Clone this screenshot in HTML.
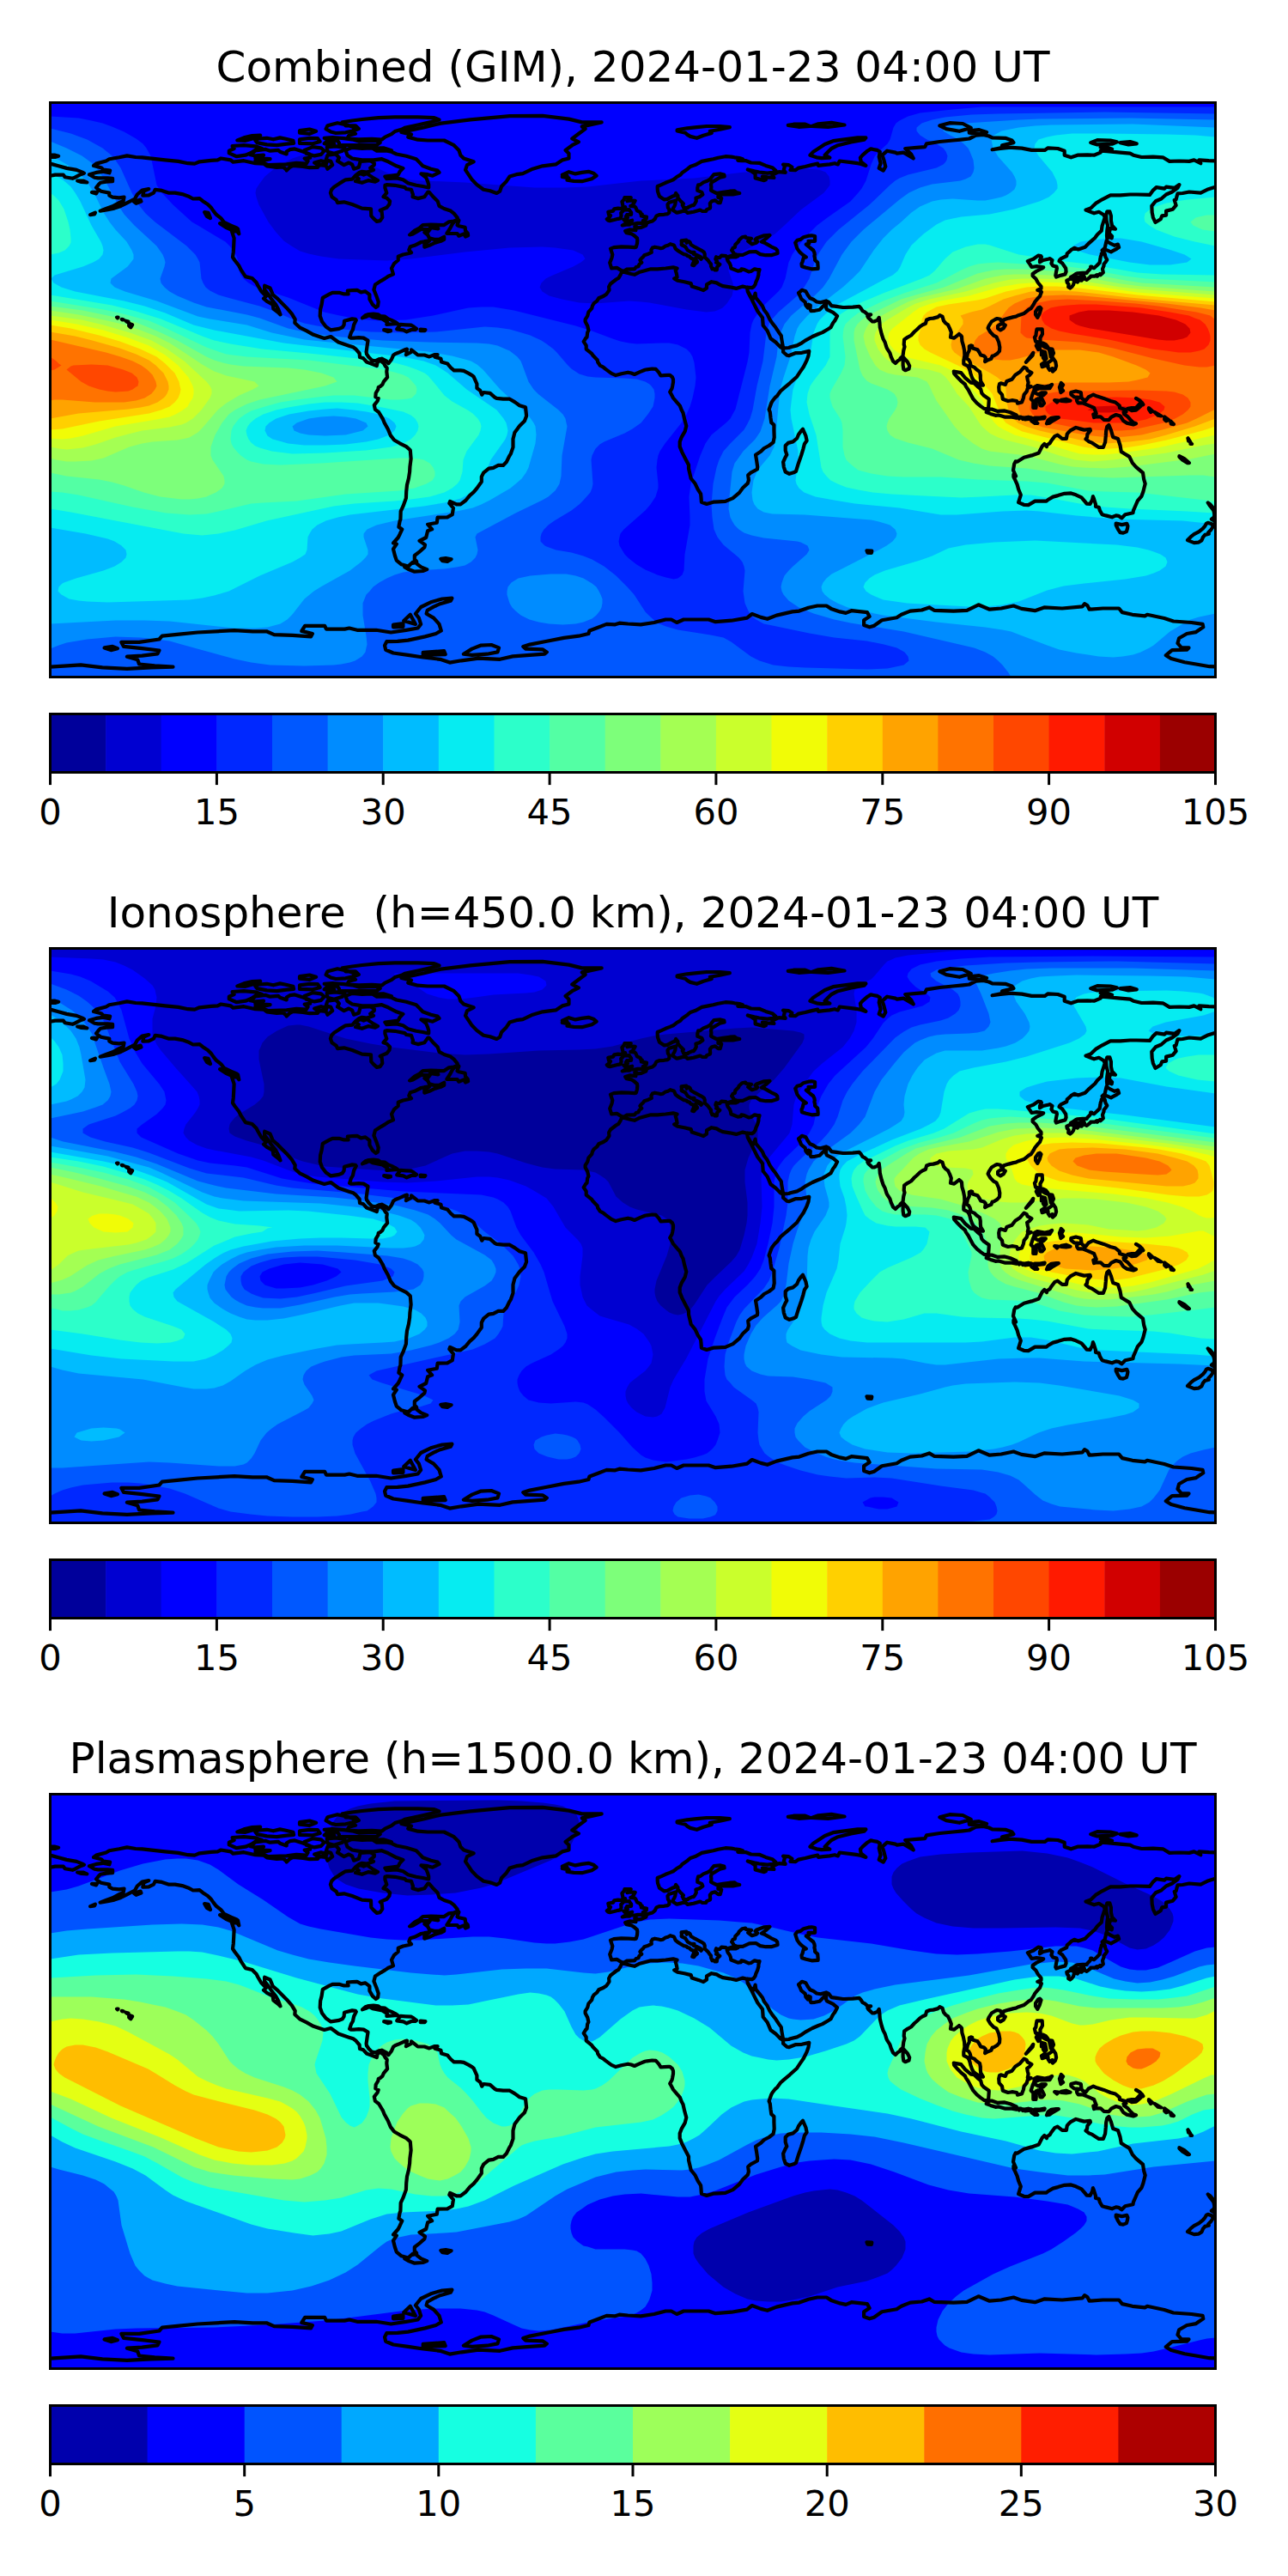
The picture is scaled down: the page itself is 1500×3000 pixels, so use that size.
<!DOCTYPE html>
<html><head><meta charset="utf-8"><title>TEC maps</title>
<style>html,body{margin:0;padding:0;background:#fff}svg{display:block}text{font-family:"DejaVu Sans","Liberation Sans",sans-serif;fill:#000}</style></head>
<body>
<svg width="1500" height="3000" viewBox="0 0 1500 3000">
<defs><clipPath id="mc"><rect x="0" y="0" width="1357" height="669"/></clipPath>
<g id="coast" fill="none" stroke="#000" stroke-width="4.2" stroke-linejoin="round" stroke-linecap="round"><path d="M50.5,73.4 53.5,71.1 65.0,68.0 68.8,65.7 80.3,63.8 89.4,61.9 99.4,63.5 107.0,63.8 120.4,65.4 133.8,66.9 149.1,68.4 160.5,70.7 168.2,71.1 173.9,68.8 187.3,67.3 194.9,66.9 198.8,65.0 210.2,66.9 212.9,69.2 225.5,67.7 238.9,70.7 248.5,71.1 252.3,73.8 263.8,75.3 271.4,74.9 275.2,78.4 275.2,79.1 279.0,75.3 282.9,73.4 294.3,74.5 302.0,75.7 311.5,75.3 313.4,72.6 321.1,73.4 323.0,77.2 328.7,72.6 326.8,68.4 321.1,66.9 323.0,61.2 332.6,60.0 336.4,64.2 334.5,68.0 342.1,72.6 347.8,70.0 351.7,72.2 353.6,77.2 359.3,75.3 361.2,68.4 372.7,67.7 377.3,70.3 377.3,72.6 372.7,76.1 376.5,78.4 368.9,81.0 363.1,80.3 359.3,81.8 355.5,84.9 351.7,89.1 344.0,89.8 341.3,91.4 336.4,94.4 330.6,98.2 327.6,101.3 326.4,105.1 328.0,109.7 333.3,113.5 334.5,116.6 342.1,115.8 351.7,118.5 363.1,123.1 373.5,123.8 373.8,131.9 376.5,134.9 380.3,138.4 384.2,137.6 386.8,133.8 386.1,127.3 384.2,125.4 391.8,122.3 394.9,118.5 395.6,114.7 391.8,110.9 388.0,109.7 391.8,105.1 389.9,99.4 389.9,96.3 391.8,95.6 401.4,96.3 412.8,98.6 414.7,100.5 420.5,101.3 422.4,107.0 422.0,109.7 428.1,111.6 435.8,109.7 439.6,104.4 441.1,104.0 445.3,108.9 451.1,114.7 453.0,120.4 458.7,123.5 466.3,126.1 470.2,129.2 474.0,133.8 474.8,136.1 470.2,138.0 464.4,138.8 458.7,142.6 443.4,142.2 433.9,142.6 430.0,146.0 424.3,149.1 418.6,154.0 422.4,152.9 431.9,147.5 442.3,147.5 439.6,151.0 435.8,151.0 439.6,154.0 441.5,157.9 447.2,159.4 453.0,159.4 458.7,156.3 458.7,159.4 454.9,161.3 447.2,163.6 441.5,166.3 435.8,168.2 435.8,164.7 441.5,160.9 435.8,161.7 431.9,162.5 424.3,166.3 419.3,167.8 417.8,171.6 420.5,174.7 416.7,175.8 410.9,177.0 405.2,179.3 405.2,183.5 400.6,187.3 397.5,193.0 399.5,199.9 393.7,202.2 389.9,204.9 385.3,207.6 378.4,212.1 376.9,217.9 380.3,226.3 382.2,232.0 381.5,237.0 379.2,238.5 375.4,235.1 371.9,229.0 371.9,223.6 367.0,219.8 362.0,220.9 357.4,218.3 351.7,218.6 346.3,219.0 347.1,222.9 342.1,222.9 336.4,221.3 328.7,221.3 324.9,223.2 317.3,227.4 316.1,235.1 314.6,240.8 314.2,248.5 316.5,255.0 321.1,261.1 326.8,264.9 336.4,263.4 340.2,261.8 342.1,258.8 342.5,254.2 351.7,251.9 355.5,252.3 356.3,253.4 353.6,258.8 352.4,264.5 350.5,267.6 348.6,273.3 349.8,274.1 353.6,274.1 359.3,273.7 365.0,274.1 370.0,277.1 368.9,284.8 368.1,290.5 368.5,292.8 370.8,296.2 374.6,300.1 378.4,300.8 382.6,298.9 386.1,298.2 391.8,301.2 393.7,303.9 397.5,298.9 399.5,294.3 402.1,292.4 405.2,291.3 412.8,287.8 415.5,287.1 414.7,292.4 414.4,293.6 420.5,290.5 420.5,287.8 426.2,292.4 428.1,294.0 435.8,294.0 441.5,295.9 447.2,293.6 451.1,293.6 448.0,296.2 454.9,298.2 455.6,302.0 462.5,303.9 466.3,308.5 470.2,311.9 477.8,311.9 481.6,312.3 487.4,315.4 491.2,317.6 493.1,319.2 496.9,327.6 496.9,332.6 500.7,335.2 502.7,340.2 504.6,337.5 512.2,338.3 517.9,343.3 519.9,344.4 527.5,345.2 535.1,345.2 540.9,348.6 546.6,352.8 553.5,354.7 554.6,365.0 552.4,370.8 546.6,376.5 540.9,384.2 539.0,391.8 539.0,401.4 536.3,409.0 534.4,412.1 531.3,418.6 527.5,422.4 521.8,422.4 516.0,425.4 510.7,426.2 504.6,431.2 502.3,435.8 502.3,441.5 496.9,449.1 493.1,453.7 488.5,457.6 483.9,463.3 477.8,467.9 473.2,467.9 465.6,464.4 464.8,466.7 469.4,472.1 468.3,479.7 462.5,482.8 451.1,483.2 450.3,489.3 439.6,491.2 444.6,496.9 439.6,498.8 437.7,506.5 430.0,510.3 436.5,514.9 435.8,517.9 429.3,523.7 424.3,527.5 424.3,531.7 426.6,534.4 422.4,535.1 416.7,540.1 409.0,537.8 403.3,533.2 401.4,527.5 399.5,519.9 403.3,514.1 399.5,513.0 405.2,506.5 407.1,502.7 409.8,496.9 405.9,494.2 407.1,487.4 407.9,485.5 408.2,475.9 410.9,470.2 414.4,460.6 414.7,453.0 415.5,445.3 417.4,437.7 418.6,430.0 418.9,424.3 420.1,414.7 419.3,404.8 414.7,400.6 407.1,396.8 400.6,393.0 396.4,387.6 393.3,380.3 389.1,372.7 387.6,368.9 385.3,365.0 382.6,360.5 378.4,357.4 377.3,352.4 381.1,347.5 382.2,344.4 378.8,342.9 379.2,338.3 381.9,333.7 382.2,331.4 384.2,330.6 386.8,328.4 388.4,324.9 392.6,319.9 391.8,313.4 392.2,309.2 390.3,306.9 388.4,303.5 384.2,300.1 381.1,302.7 380.3,306.6 376.5,305.0 371.2,303.1 368.5,302.0 364.7,297.8 360.5,296.6 360.1,292.0 355.5,286.7 352.8,284.8 347.8,283.2 342.1,281.3 335.6,279.0 326.8,272.5 319.2,274.5 306.6,270.3 298.2,265.7 290.5,261.8 284.8,256.5 285.2,252.3 281.3,245.8 275.2,238.9 269.5,233.2 264.1,227.8 259.2,223.6 256.1,216.0 249.6,213.3 249.6,217.9 254.2,223.6 258.0,229.3 262.6,235.1 265.7,240.8 268.0,246.9 265.7,244.6 259.9,240.1 259.2,235.1 252.3,231.3 248.5,228.2 251.5,225.5 245.8,219.8 242.0,213.3 240.1,209.5 235.1,204.5 227.4,202.6 222.1,194.6 219.8,190.0 214.8,183.5 212.5,180.0 213.3,173.9 213.7,166.3 214.1,157.9 211.4,149.5 217.9,150.2 219.8,152.9 218.6,147.2 217.1,146.0 211.0,143.3 202.6,139.5 198.8,134.6 193.0,130.0 190.0,126.1 187.3,122.3 183.5,118.5 177.7,114.7 173.9,111.6 166.3,112.0 160.5,108.9 153.7,106.6 145.3,105.1 137.6,105.1 130.0,102.4 122.3,101.3 120.4,105.1 114.7,107.8 107.8,108.2 108.9,103.2 114.7,100.5 107.0,102.1 101.3,107.0 98.6,112.0 89.8,116.6 82.2,120.4 74.5,123.1 66.9,124.6 58.1,126.1 65.0,123.5 72.6,120.8 80.3,116.6 85.2,114.3 86.0,110.1 80.3,110.9 72.6,110.1 68.8,108.2 68.8,105.1 59.2,103.2 56.2,101.3 53.5,99.0 56.2,95.6 58.5,93.3 65.0,92.1 72.6,91.7 72.6,88.3 66.9,87.9 55.8,87.9 51.6,87.2 45.5,83.7 53.5,81.4 61.2,80.3 68.8,81.8 69.6,79.1 61.9,78.0 59.2,75.7 50.5,73.4ZM409.0,34.4 435.8,28.7 454.9,24.1 489.3,19.9 535.1,15.7 573.4,15.3 604.0,19.1 619.2,22.9 642.2,22.9 619.2,27.9 623.1,30.6 615.4,36.3 607.8,42.0 615.4,45.9 607.8,49.7 600.1,55.4 604.0,59.2 604.0,65.0 596.3,66.9 588.7,71.9 573.4,73.8 561.9,77.2 550.4,82.6 542.8,83.7 535.1,86.0 531.3,91.7 525.6,97.5 523.7,103.2 519.9,105.5 512.2,102.8 504.6,101.3 496.9,95.6 491.2,89.8 487.4,84.1 483.5,78.4 485.5,72.6 493.1,68.8 481.6,65.0 477.8,61.2 475.9,55.4 470.2,49.7 458.7,44.0 439.6,44.0 428.1,43.2 416.7,40.1 420.5,37.1 409.0,34.4ZM596.3,84.1 604.0,80.7 611.6,82.9 619.2,81.4 626.9,80.3 632.6,82.2 636.1,85.2 630.7,88.7 619.2,91.7 609.7,91.4 602.0,90.2 604.0,87.9 596.3,86.4 602.0,85.2 596.3,84.1ZM665.5,197.6 667.8,197.2 676.6,199.5 680.4,200.3 685.8,197.6 699.5,193.8 707.2,193.8 716.7,193.0 725.5,191.9 730.1,193.0 728.2,195.3 729.3,198.8 730.1,203.4 726.7,204.9 730.5,207.2 738.5,208.7 746.2,210.6 747.3,214.1 754.9,216.4 760.7,218.6 764.5,216.0 764.5,211.8 770.2,208.7 776.0,209.9 779.8,212.1 783.6,213.7 791.3,214.8 798.9,216.4 802.7,215.2 806.5,214.1 811.5,215.2 817.3,215.6 819.2,214.4 821.1,211.8 821.8,209.1 823.7,204.9 824.9,200.7 824.9,198.4 826.0,194.6M811.5,215.2 812.3,220.2 816.1,227.4 819.9,235.1 823.7,242.7 829.5,250.4 830.2,259.5 835.2,265.7 839.0,274.8 844.8,279.0 850.5,284.8 853.6,286.7 853.6,290.5 858.2,294.3 860.1,294.7 867.7,291.7 875.4,291.3 883.8,289.4 883.0,294.7 881.1,300.1 877.3,307.7 873.4,313.4 869.6,319.2 861.2,326.8 854.3,332.6 850.5,336.0 846.7,341.3 844.4,343.3 840.9,347.8 839.8,349.8 837.1,357.4 838.3,360.5 839.0,367.0 839.8,372.7 842.9,375.4 842.9,382.2 843.2,389.9 842.1,395.6 837.1,399.5 831.4,402.5 827.6,406.3 821.5,410.2 822.6,416.7 823.7,424.3 823.4,427.0 816.1,430.8 812.7,433.9 813.4,439.6 812.3,443.4 806.5,448.8 802.7,454.1 795.1,460.6 786.3,464.4 777.9,464.8 772.1,465.2 764.5,467.5 758.4,465.2 758.0,459.5 757.6,455.6 754.2,450.3 751.1,443.8 746.2,437.7 745.8,436.1 743.5,426.2 743.5,422.0 739.7,414.7 735.8,407.1 733.2,400.6 733.2,394.9 735.1,389.9 739.3,382.6 740.8,376.5 738.5,368.1 737.0,361.2 735.1,357.8 734.7,356.6 733.2,352.8 730.1,349.4 725.5,344.0 722.5,338.3 721.7,337.1 724.0,332.9 724.7,329.9 725.5,325.7 725.5,322.2 724.4,319.6 721.7,317.3 719.8,317.3 714.8,317.6 711.0,318.0 708.7,314.2 705.3,310.4 701.0,310.0 694.9,310.8 692.6,311.2 687.3,313.4 680.4,316.5 676.6,315.0 672.8,314.2 665.1,315.7 658.6,317.6 653.6,315.4 646.8,310.4 644.1,308.1 640.3,306.2 637.6,302.0 637.2,299.7 635.7,298.2 631.9,294.3 630.7,292.4 624.2,287.1 624.2,282.9 621.2,278.3 623.8,274.1 625.0,273.3 625.7,267.6 626.9,265.3 625.7,259.9 623.1,255.0 623.1,252.7 625.7,248.5 626.9,243.9 630.7,239.7 631.5,236.6 633.0,233.9 636.8,230.9 638.7,227.8 644.1,225.5 647.9,222.9 651.0,218.3 650.6,214.4 652.5,211.0 659.0,206.0 662.1,204.1 664.4,199.9 665.5,197.6M876.5,380.3 879.9,388.0 881.1,393.7 878.4,397.5 876.9,403.3 874.6,410.9 871.5,419.7 868.5,429.3 865.8,430.8 860.8,432.3 856.2,430.0 854.3,424.3 853.6,418.6 856.2,412.8 857.8,410.2 856.2,405.2 856.2,399.5 859.3,396.4 865.0,394.9 869.6,391.0 871.5,386.5 874.6,382.2 876.5,380.3ZM826.0,194.6 823.7,194.6 820.3,193.8 816.1,196.5 813.4,196.9 808.5,194.6 805.0,193.8 804.3,195.7 800.8,196.1 796.2,194.2 792.8,193.0 792.4,190.0 791.3,187.3 789.0,184.2 788.2,181.6 791.3,180.0 798.1,180.0 800.8,178.9 798.9,177.7 798.9,177.0 796.2,175.8 795.1,177.7 791.3,178.9 788.2,180.4 787.4,179.3 787.1,178.5 781.7,178.1 779.8,180.4 777.5,180.8 775.6,179.7 774.8,182.3 776.7,185.0 775.6,186.2 779.8,188.4 778.6,189.6 776.7,191.1 776.3,194.9 774.1,194.9 772.5,193.4 771.0,193.8 769.5,190.4 769.5,188.1 767.6,185.8 765.6,183.1 762.2,180.0 762.2,176.2 761.4,174.3 758.8,172.4 757.2,171.6 750.7,168.2 746.2,165.5 745.0,162.5 743.1,161.3 741.2,163.2 740.0,160.5 740.8,160.2 735.1,160.9 735.4,163.2 735.1,165.5 739.7,167.8 742.3,172.0 746.2,174.3 750.0,174.3 749.2,176.2 752.7,177.4 756.9,179.3 758.8,181.2 758.0,182.3 756.5,180.8 753.8,179.7 751.5,181.2 751.5,183.1 753.4,185.0 753.4,185.8 751.1,187.7 749.6,189.6 747.7,189.2 748.8,186.5 750.0,184.6 748.4,182.0 746.5,181.2 745.4,180.4 744.6,179.3 742.3,178.5 740.4,177.0 737.7,176.6 734.7,174.7 730.9,172.4 728.2,170.1 727.4,168.2 726.3,165.9 722.1,164.7 719.4,166.3 716.7,167.0 716.0,167.4 713.3,169.3 711.0,169.7 708.3,169.0 704.1,168.2 701.4,169.0 699.9,171.6 700.3,174.3 696.5,176.2 691.9,177.7 691.1,178.9 688.0,182.0 686.9,183.5 688.8,186.2 686.1,188.1 685.0,190.7 682.3,191.5 680.4,193.8 678.9,193.8 671.2,194.2 667.4,196.5 664.0,194.9 659.8,192.3 653.6,193.0 651.7,186.5 654.0,180.8 654.8,177.0 652.5,170.1 656.3,168.6 665.1,167.8 673.5,168.2 681.2,168.6 682.3,168.2 683.5,164.0 683.8,160.2 683.5,157.9 679.6,154.4 677.3,152.9 671.2,151.8 669.7,149.5 674.7,147.9 681.9,148.7 680.8,144.5 683.1,144.5 683.8,146.0 688.4,145.3 693.8,143.0 694.9,139.9 697.6,139.1 701.4,138.0 704.1,135.7 706.0,131.9 709.1,130.7 714.8,130.3 719.0,129.6 720.9,128.1 720.9,124.6 719.4,122.3 719.0,118.5 720.9,116.2 728.6,113.9 727.8,118.5 727.0,120.4 725.5,123.1 724.7,124.6 726.3,126.1 729.3,128.1 730.1,128.1 735.1,126.9 735.8,126.5 739.7,126.1 742.3,128.4 749.2,127.3 756.9,125.0 759.5,126.5 763.7,126.5 764.5,124.6 768.3,123.1 768.7,121.6 768.3,117.4 770.6,114.7 774.4,113.9 777.9,116.6 780.2,116.6 781.3,112.8 781.7,111.2 777.9,110.5 777.9,108.2 782.5,107.0 787.4,106.6 795.1,107.0 802.7,105.5 798.9,104.4 797.0,102.8 791.3,103.2 783.6,104.4 776.0,105.5 772.1,103.6 769.5,102.1 769.9,98.2 769.5,95.6 770.2,92.9 774.1,90.6 779.8,87.2 785.1,86.0 784.8,84.1 780.6,82.9 772.9,83.7 770.2,86.8 769.1,88.7 765.6,91.0 760.7,92.9 756.9,95.6 754.6,95.9 753.8,99.4 753.8,102.4 758.8,104.4 759.9,107.0 756.1,109.7 751.9,110.9 752.3,114.7 750.7,117.7 749.2,119.6 747.7,119.6 742.7,121.9 742.3,122.7 737.7,122.7 737.0,120.4 736.2,119.3 737.4,117.7 733.5,113.9 730.9,110.9 730.9,108.6 728.6,105.5 727.4,108.2 724.4,109.3 718.6,112.4 714.8,112.8 709.5,109.3 707.5,103.6 707.2,100.5 707.2,97.5 711.7,95.6 716.7,93.3 721.7,91.4 725.5,89.8 729.3,86.8 733.9,84.1 736.2,81.4 742.3,77.2 745.4,74.5 751.1,72.6 758.8,68.4 766.4,66.9 772.1,65.7 777.9,64.2 786.3,62.7 793.2,63.1 797.0,63.8 802.7,64.6 806.5,65.7 800.8,67.3 805.8,67.7 810.4,67.7 814.2,69.2 816.1,70.0 825.7,70.3 833.3,73.4 840.9,75.7 844.8,79.1 845.5,80.3 840.9,81.4 835.2,82.2 825.7,81.0 819.9,79.9 812.3,78.0 816.1,79.5 821.1,82.9 821.1,87.9 825.7,89.1 831.4,90.6 833.3,89.8 829.5,86.0 835.2,86.8 842.9,87.5 840.9,84.1 848.6,80.7 856.2,81.4 854.3,78.4 855.5,73.4 853.6,72.2 860.1,72.6 863.9,75.3 862.0,78.4 867.7,78.7 871.5,76.1 879.2,74.5 886.8,72.6 893.7,71.1 894.5,73.4 900.2,72.6 907.8,71.9 913.6,70.7 917.4,71.9 919.3,68.0 932.7,69.6 940.3,70.7 944.2,71.5 949.9,73.4 944.2,68.8 943.4,64.2 946.1,61.2 951.8,56.2 955.6,53.9 963.3,55.4 966.3,57.3 965.2,63.1 967.1,70.7 965.2,76.4 970.2,79.1 972.8,74.5 970.9,66.9 969.0,61.2 974.7,56.2 984.3,58.1 986.2,59.2 993.8,58.1 997.7,60.4 1005.3,65.0 1002.6,60.0 995.8,53.5 1009.1,52.4 1018.7,51.6 1020.6,47.8 1035.9,45.5 1051.2,44.0 1062.7,42.8 1070.3,42.0 1077.9,38.2 1086.7,37.5 1093.2,39.0 1097.1,40.9 1112.3,41.3 1120.0,44.0 1121.9,46.6 1108.5,49.7 1108.5,51.6 1116.2,52.4 1106.6,53.5 1097.1,54.7 1110.4,52.0 1120.0,52.4 1131.5,53.1 1142.9,55.4 1158.2,55.4 1162.0,52.8 1173.5,53.5 1181.2,56.2 1181.2,61.2 1188.8,63.8 1196.4,61.2 1207.9,60.8 1215.6,61.2 1223.2,58.1 1223.2,56.2 1230.8,56.6 1246.1,58.1 1257.6,59.2 1261.4,61.2 1271.0,63.5 1284.4,63.1 1295.8,63.8 1303.5,68.4 1314.9,68.0 1326.4,68.4 1332.1,66.9 1339.8,70.7 1337.9,66.9 1349.3,67.7 1360.8,68.0 1372.3,70.7 1376.1,71.1M0.0,71.1 9.6,73.8 19.1,76.4 30.6,78.4 38.2,81.4 39.4,82.2 34.4,84.1 28.7,87.2 26.0,88.3 17.2,86.8 15.3,84.1 5.7,84.1 0.0,85.2M1376.1,86.0 1366.5,87.2 1370.4,91.7 1372.3,95.6 1364.6,95.6 1373.0,96.3 1357.0,98.2 1347.4,101.3 1339.8,105.1 1326.4,104.0 1318.8,105.5 1313.0,105.9 1311.9,109.7 1311.1,112.8 1309.2,113.5 1311.1,119.6 1307.3,124.2 1299.6,126.1 1299.6,131.1 1294.7,131.9 1293.2,135.7 1287.0,139.5 1284.4,133.8 1283.2,128.1 1282.8,120.4 1287.4,114.7 1293.9,112.0 1299.6,107.0 1306.5,104.0 1313.0,99.4 1314.9,95.6 1309.2,99.4 1299.6,98.2 1297.7,100.1 1288.2,98.6 1284.4,102.1 1280.5,107.4 1265.2,107.0 1257.6,107.0 1246.1,107.8 1234.7,107.8 1225.1,112.8 1217.5,117.4 1211.7,123.1 1206.0,125.0 1213.6,128.1 1215.6,128.8 1221.3,127.3 1227.0,130.7 1228.2,133.8 1227.0,137.6 1225.1,143.3 1224.3,149.1 1219.4,153.7 1216.7,157.5 1209.8,163.6 1205.2,168.2 1197.2,170.9 1192.6,169.3 1188.8,171.6 1187.7,172.8 1184.2,175.8 1183.8,178.5 1177.3,181.6 1175.4,183.5 1175.0,184.6 1178.9,187.3 1182.7,193.0 1183.1,196.9 1181.9,199.9 1177.3,201.1 1171.6,203.0 1170.8,201.4 1171.6,196.9 1172.4,193.0 1172.0,191.1 1167.8,190.0 1165.9,187.3 1167.0,183.5 1164.0,181.6 1163.2,182.0 1156.3,183.5 1152.5,185.8 1152.5,183.5 1154.4,179.7 1153.6,178.5 1150.6,178.1 1145.2,182.0 1138.3,184.6 1141.0,188.4 1142.9,191.5 1148.7,190.7 1152.5,191.1 1156.7,191.9 1154.4,193.4 1148.3,196.5 1144.1,199.5 1144.1,201.8 1147.9,205.3 1150.2,209.5 1154.0,214.1 1154.0,216.4 1149.8,218.3 1153.6,219.8 1154.4,220.6 1152.5,225.5 1150.6,227.4 1146.8,232.0 1145.2,235.1 1142.2,239.7 1139.5,241.2 1135.3,244.6 1134.1,245.4 1127.6,247.7 1124.6,249.2 1121.9,249.6 1116.2,251.1 1112.3,252.3 1110.1,253.0 1109.3,256.9 1107.4,254.2 1106.6,252.3 1102.8,251.5 1100.9,252.3 1096.3,255.0 1093.2,259.9 1092.1,262.6 1095.1,267.6 1099.0,271.4 1102.0,272.9 1104.7,279.0 1105.8,284.8 1105.5,289.4 1102.8,292.4 1099.0,294.7 1097.1,295.1 1095.9,298.2 1091.3,300.1 1088.6,301.6 1089.4,297.0 1087.5,295.1 1083.7,294.0 1081.8,290.5 1079.9,287.8 1074.1,285.9 1073.7,283.2 1072.2,282.9 1070.3,283.6 1070.3,288.6 1068.4,292.4 1067.2,298.2 1069.5,299.3 1071.1,302.0 1072.2,306.6 1076.0,308.1 1078.7,310.8 1082.5,313.4 1083.3,317.3 1083.3,321.1 1083.7,324.5 1086.4,329.1 1083.3,329.1 1079.9,326.8 1078.7,326.1 1075.3,323.4 1073.4,319.9 1071.8,315.4 1071.4,313.4 1070.3,309.6 1068.4,306.6 1063.8,304.3 1063.8,300.1 1064.9,294.3 1064.6,288.6 1063.4,282.9 1061.9,277.9 1061.5,272.5 1060.7,271.4 1058.5,269.5 1056.2,271.4 1052.7,274.1 1048.5,273.3 1049.3,267.6 1047.4,262.6 1045.5,258.8 1042.8,256.9 1040.5,254.2 1039.0,249.2 1035.9,247.7 1034.0,249.6 1028.3,251.1 1024.4,251.5 1020.6,253.0 1019.8,256.1 1019.5,257.3 1016.0,258.8 1013.0,260.7 1009.1,264.5 1006.5,266.8 1002.6,271.0 998.4,273.3 994.6,276.0 994.2,281.7 995.0,284.4 993.8,288.6 993.1,294.3 993.1,295.1 990.0,297.8 989.6,299.3 987.0,300.8 984.3,303.5 981.6,301.2 979.3,296.2 977.8,291.3 974.7,286.7 974.0,285.2 972.1,279.0 970.2,275.6 968.2,269.5 966.3,261.8 965.9,256.1 965.6,253.4 965.2,250.4 963.3,253.4 959.4,255.0 957.5,255.0 952.6,250.4 951.8,248.8 955.6,246.9 951.8,246.6 948.7,243.9 946.1,242.7 944.2,239.7 942.2,237.4 934.6,238.1 925.0,238.5 923.1,238.5 915.5,237.4 909.8,236.6 906.7,232.4 903.6,230.9 897.1,232.8 892.6,232.0 888.7,229.3 884.9,227.8 882.2,224.0 879.9,219.8 875.4,218.3 873.8,219.8 871.5,221.7 873.4,225.5 874.6,228.6 879.2,232.4 879.9,236.2 882.2,238.9 883.0,235.1 885.3,236.2 884.9,240.4 886.1,242.7 890.6,242.3 896.0,241.2 899.4,237.8 902.5,234.7 903.6,233.9 903.6,238.9 904.4,240.8 911.7,244.3 916.6,248.5 913.6,254.2 911.7,256.5 909.0,261.8 905.9,263.8 899.4,267.6 894.5,269.5 887.6,272.5 879.2,277.1 875.4,279.8 869.6,282.9 862.0,284.8 860.1,285.5 854.3,285.9 853.2,283.6 852.4,279.0 851.7,275.2 851.3,271.4 848.6,267.6 844.8,261.8 840.9,256.9 837.9,252.3 835.2,246.6 831.4,241.6 829.5,237.0 825.7,232.0 821.8,227.4 821.1,222.1 819.5,227.4 818.8,228.2 815.3,225.1 812.7,220.2M798.9,177.0 806.5,177.4 814.2,173.9 821.8,173.5 826.8,176.6 833.3,177.7 839.8,177.7 847.1,175.5 846.7,172.0 844.8,170.1 839.8,167.8 835.2,165.1 832.5,163.6 828.3,162.1 833.3,158.6 837.9,154.4 831.4,154.8 822.6,157.9 821.1,159.4 823.7,161.7 822.2,163.2 817.3,164.7 812.7,161.3 816.5,158.3 810.4,157.5 809.6,156.0 805.8,156.7 802.0,160.2 801.6,161.7 797.8,165.5 797.4,168.6 795.1,169.3 793.6,172.0 795.5,174.3 796.2,175.8M867.7,163.2 870.0,170.1 872.7,173.9 876.1,177.0 880.3,180.0 877.3,180.8 876.1,185.4 875.0,187.7 875.4,190.7 880.3,192.3 886.8,193.8 894.1,193.4 894.1,191.1 893.7,186.2 890.6,183.5 890.6,181.6 889.9,178.5 890.3,177.0 889.9,174.7 888.7,172.0 884.9,169.0 880.3,165.1 883.8,164.0 883.0,161.3 890.6,161.3 890.6,155.6 886.8,154.8 883.0,155.2 877.3,156.7 873.8,159.4 870.0,160.2 867.7,163.2ZM666.3,143.0 670.8,142.2 674.7,142.2 676.6,140.7 680.8,141.1 684.2,140.3 689.2,140.3 693.4,139.1 691.9,138.0 690.3,137.6 694.2,135.3 694.5,133.0 690.0,132.3 688.4,131.9 689.2,130.0 687.7,129.6 687.3,127.7 683.5,125.8 681.9,122.3 680.4,120.8 675.8,120.4 678.1,119.3 680.0,116.6 681.2,114.3 674.7,113.9 672.0,114.7 673.1,113.1 676.2,110.5 668.9,110.5 668.2,112.8 665.9,115.4 666.6,118.5 667.0,120.4 666.6,123.1 669.7,121.6 669.7,124.2 668.6,125.0 674.3,124.6 675.1,126.1 676.6,128.1 676.6,130.3 671.6,130.7 670.5,132.6 672.4,133.8 670.5,135.7 667.8,136.1 668.9,137.2 674.7,138.0 677.7,137.2 675.8,138.8 672.0,138.8 669.7,141.1 666.3,143.0ZM664.0,134.9 665.1,131.9 664.7,128.4 667.0,126.5 665.5,123.5 661.3,123.1 656.7,123.8 655.6,126.1 649.8,127.3 650.6,130.7 652.5,131.5 651.0,133.8 648.3,135.7 649.8,137.2 651.7,137.6 656.7,136.5 661.3,135.3 664.0,134.9ZM884.9,61.2 888.7,57.3 894.5,53.5 902.1,48.5 911.7,44.7 925.0,42.8 940.3,40.9 949.9,40.9 948.0,43.2 932.7,45.9 917.4,49.7 909.8,53.5 905.9,57.3 902.1,61.2 907.8,64.2 898.3,64.6 892.6,63.8 884.9,61.2ZM730.1,31.7 741.6,29.8 753.0,28.7 764.5,27.5 779.8,27.5 791.3,28.7 779.8,31.3 768.3,33.3 770.2,35.5 760.7,38.2 753.0,41.3 745.4,39.4 741.6,37.1 739.7,35.2 730.1,32.9 730.1,31.7ZM1188.4,204.5 1194.5,203.4 1198.4,203.0 1204.1,202.2 1204.9,205.3 1207.1,206.4 1211.4,203.0 1211.7,202.2 1216.3,202.2 1218.6,200.7 1219.4,202.2 1222.4,199.5 1223.2,200.7 1226.3,198.0 1225.5,193.8 1227.0,190.0 1227.0,188.1 1229.3,185.4 1230.8,183.1 1228.9,179.7 1228.2,176.2 1226.6,175.8 1224.3,177.0 1223.2,179.7 1222.8,182.7 1222.1,186.5 1219.4,189.2 1218.6,190.0 1215.6,192.7 1211.7,191.1 1212.9,191.1 1210.6,194.2 1207.9,196.9 1207.1,198.4 1202.2,198.4 1196.4,198.8 1194.5,199.5 1190.7,202.2 1188.4,203.4 1188.4,204.5ZM1188.4,204.9 1191.5,206.0 1192.6,208.3 1191.5,212.1 1189.9,214.4 1187.7,216.0 1185.7,214.8 1186.1,211.4 1184.2,209.5 1183.8,207.2 1186.5,206.0 1188.4,204.9ZM1194.5,204.9 1198.7,203.4 1202.6,203.7 1202.9,205.3 1201.0,207.2 1198.4,206.4 1196.4,209.1 1194.5,208.3 1194.1,206.4 1194.5,204.9ZM1224.3,175.8 1227.0,174.7 1225.1,172.0 1228.2,169.3 1229.3,164.4 1230.1,160.9 1233.9,163.6 1239.6,166.3 1243.5,165.1 1244.6,168.6 1242.3,170.1 1236.6,173.2 1235.4,173.9 1230.1,171.6 1227.0,172.8 1224.3,175.8ZM1230.8,126.9 1233.9,126.9 1235.4,131.9 1235.4,137.6 1236.6,143.3 1240.4,147.2 1234.7,146.4 1233.1,151.8 1236.6,155.6 1236.2,157.9 1232.8,156.3 1230.8,158.6 1230.5,154.8 1230.8,149.1 1231.6,143.3 1230.1,137.6 1229.7,131.1 1230.8,126.9ZM1152.5,238.1 1154.0,239.7 1152.1,245.8 1149.8,250.4 1147.5,246.9 1147.5,243.5 1150.6,238.9 1152.5,238.1ZM1109.7,258.0 1112.3,259.2 1110.4,262.6 1106.6,264.9 1103.6,263.0 1103.6,259.9 1106.6,258.0 1109.7,258.0ZM993.8,297.0 998.4,302.0 1000.7,306.6 1000.0,310.0 995.8,311.7 993.8,310.4 993.1,305.8 993.1,302.0 993.8,297.0ZM1149.0,263.8 1155.2,263.8 1155.5,269.5 1152.9,274.1 1153.2,279.8 1156.3,280.2 1159.4,281.7 1162.0,284.8 1162.0,286.3 1158.2,284.8 1154.4,282.5 1150.6,282.1 1149.0,280.2 1150.2,278.7 1147.5,277.9 1146.4,273.3 1147.9,271.4 1148.3,267.6 1149.0,263.8ZM1167.4,297.0 1170.8,302.0 1171.6,306.6 1170.4,310.4 1167.4,313.1 1167.0,309.6 1164.0,311.5 1162.0,308.5 1162.0,305.8 1159.4,306.2 1155.2,307.7 1154.4,304.7 1157.5,302.7 1161.3,303.1 1164.0,301.6 1165.9,300.1 1167.4,297.0ZM1163.2,286.7 1167.0,287.1 1168.5,291.7 1166.6,295.5 1165.1,295.9 1164.3,291.7 1163.2,286.7ZM1154.4,289.4 1158.6,290.5 1159.4,294.3 1160.1,298.2 1158.2,299.7 1156.3,297.0 1156.7,294.3 1154.4,294.0 1154.4,289.4ZM1136.4,302.4 1140.3,298.2 1144.1,294.3 1144.8,291.3 1142.9,294.0 1139.1,298.9 1136.4,302.4ZM1148.3,283.2 1151.7,283.6 1152.5,286.7 1150.6,287.5 1148.3,283.2ZM1105.5,327.6 1107.0,326.8 1112.3,328.4 1113.9,324.5 1120.0,322.2 1123.8,317.3 1129.5,313.4 1134.1,308.1 1137.2,309.6 1138.0,311.9 1142.9,314.6 1140.3,317.6 1137.6,319.2 1138.3,323.0 1139.1,326.1 1138.3,329.9 1142.2,330.6 1138.3,332.6 1137.2,336.4 1134.1,340.2 1133.4,344.0 1131.5,349.0 1126.5,350.1 1125.7,347.5 1120.0,346.7 1115.4,347.5 1109.3,345.2 1108.5,340.2 1105.1,336.4 1104.7,331.4 1105.5,327.6ZM1052.3,313.1 1060.7,314.6 1065.3,320.3 1072.2,326.1 1076.0,326.8 1079.9,330.6 1083.7,333.7 1084.8,338.3 1087.5,341.3 1093.2,345.2 1093.2,347.1 1092.9,351.7 1092.5,356.6 1087.9,356.6 1083.7,353.6 1079.1,349.8 1074.9,345.2 1071.8,339.4 1069.2,334.5 1066.5,330.6 1065.3,328.0 1061.5,324.9 1056.9,320.3 1052.7,315.7 1052.3,313.1ZM1090.2,360.5 1093.6,357.0 1097.1,357.2 1102.8,359.3 1111.6,358.9 1118.1,360.8 1125.3,363.9 1125.3,367.3 1120.0,366.2 1112.3,366.2 1104.7,363.9 1100.9,364.3 1095.1,362.4 1090.2,360.5ZM1126.1,365.8 1130.3,366.2 1128.4,368.1 1126.1,365.8ZM1131.5,366.6 1134.1,367.0 1132.6,368.5 1131.5,366.6ZM1134.5,367.0 1139.1,366.2 1142.9,367.0 1141.0,368.1 1135.3,368.9 1134.5,367.0ZM1146.4,367.0 1152.5,367.0 1158.2,366.2 1157.5,367.7 1150.6,368.5 1146.4,368.1 1146.4,367.0ZM1142.9,370.8 1147.5,370.8 1149.8,373.5 1146.8,373.5 1142.9,370.8ZM1160.5,373.8 1164.0,373.1 1167.8,370.4 1174.3,366.6 1171.6,366.6 1165.9,367.3 1162.0,370.0 1160.5,373.8ZM1146.0,331.4 1149.8,329.5 1158.2,331.0 1164.0,329.9 1166.6,328.4 1164.0,332.6 1158.2,332.9 1152.5,332.6 1147.5,334.5 1146.8,337.9 1150.6,339.8 1154.4,337.9 1159.4,337.9 1156.3,341.0 1153.2,341.7 1155.5,345.9 1157.5,350.1 1155.2,352.8 1152.9,352.8 1152.5,349.8 1150.6,344.8 1147.9,345.9 1148.3,351.7 1147.9,355.5 1144.8,355.5 1144.8,347.8 1142.2,345.2 1144.1,339.1 1146.0,334.5 1146.0,331.4ZM1175.4,331.4 1177.3,326.4 1179.6,328.7 1177.3,332.6 1179.6,335.6 1176.9,337.5 1175.4,331.4ZM1177.3,346.3 1183.1,345.2 1188.0,347.1 1183.1,347.8 1177.3,347.5 1177.3,346.3ZM1169.7,346.7 1174.3,347.1 1172.4,349.0 1169.7,346.7ZM1188.8,337.5 1194.5,336.0 1200.3,337.5 1201.0,343.3 1202.2,345.2 1206.0,347.1 1209.1,342.9 1214.8,340.2 1219.4,342.1 1227.0,344.4 1234.7,347.5 1240.4,349.0 1245.4,353.2 1245.4,355.5 1251.9,357.4 1253.0,360.1 1250.0,360.5 1250.7,362.8 1254.5,365.4 1257.6,368.9 1261.4,372.7 1264.5,373.8 1261.4,375.0 1253.8,373.1 1250.0,370.8 1246.1,365.0 1241.2,363.5 1235.8,366.2 1232.8,369.6 1227.0,369.3 1223.2,365.8 1218.2,365.8 1215.6,366.6 1214.8,363.1 1218.2,362.0 1215.6,355.5 1207.9,352.1 1202.2,349.8 1197.2,349.8 1195.7,347.5 1195.3,345.2 1199.1,343.3 1192.6,342.9 1188.8,339.8 1188.8,337.5ZM1254.9,356.3 1259.5,355.5 1264.5,355.5 1269.1,350.5 1270.2,353.2 1267.2,355.9 1264.5,358.2 1259.5,358.6 1254.9,356.3ZM1264.5,344.4 1269.1,347.1 1272.9,351.7 1271.4,349.4 1267.2,345.9 1264.5,344.4ZM1279.4,355.5 1283.6,359.3 1281.7,360.5 1279.4,357.0 1279.4,355.5ZM1286.3,360.5 1290.1,362.8 1293.9,365.0 1290.1,364.3 1286.3,360.5ZM1297.7,365.8 1302.7,369.6 1299.6,370.8 1297.7,368.9 1297.7,365.8ZM1304.6,370.8 1308.4,374.6 1305.4,374.2 1304.6,370.8ZM1324.9,390.7 1327.6,394.9 1325.6,394.1 1324.9,390.7ZM1328.3,396.4 1329.5,397.5 1327.9,397.5 1328.3,396.4ZM1314.9,411.7 1320.7,414.7 1326.4,419.7 1324.5,419.7 1318.8,416.3 1314.9,412.4 1314.9,411.7ZM1232.8,375.4 1235.4,381.5 1237.7,389.5 1243.5,391.4 1246.1,399.5 1247.3,406.7 1250.0,408.2 1256.8,412.4 1260.3,419.7 1264.5,424.3 1272.5,431.2 1273.7,438.8 1275.2,443.8 1272.9,453.0 1271.0,458.3 1266.4,463.7 1264.1,469.0 1261.4,475.1 1261.0,477.8 1251.9,479.7 1247.7,483.9 1244.2,481.3 1241.2,480.9 1236.6,482.8 1229.3,480.9 1225.1,479.7 1222.4,475.1 1221.3,471.3 1217.5,470.5 1217.5,467.9 1215.2,460.6 1214.4,458.7 1213.6,462.5 1211.0,467.5 1207.1,467.1 1204.9,464.4 1201.0,459.8 1194.5,456.8 1188.8,454.9 1181.2,455.3 1173.5,457.6 1167.8,459.1 1162.0,462.5 1160.1,464.1 1154.4,464.1 1146.8,464.1 1139.1,468.6 1133.8,468.3 1127.6,465.6 1130.3,456.8 1127.6,450.3 1126.1,444.6 1123.8,439.6 1121.9,435.8 1121.9,433.1 1124.6,435.0 1121.5,428.1 1122.7,420.9 1124.2,417.8 1126.1,418.2 1134.1,413.2 1142.9,410.9 1151.3,407.9 1155.2,400.2 1157.8,397.5 1160.5,400.6 1160.5,399.1 1164.0,396.8 1165.9,393.7 1169.7,388.7 1173.1,387.2 1178.5,391.4 1183.4,391.4 1184.2,386.1 1185.7,384.2 1188.0,381.9 1194.5,378.4 1198.4,379.6 1204.1,381.1 1211.0,380.3 1211.4,381.9 1207.9,386.1 1207.5,389.9 1206.0,391.8 1209.8,394.9 1213.6,396.4 1221.3,401.4 1226.3,401.4 1228.6,395.6 1229.3,388.0 1229.7,382.2 1230.8,377.3 1232.8,375.4ZM1241.2,490.0 1248.0,491.6 1253.8,490.4 1254.9,493.1 1254.5,495.8 1253.4,499.6 1249.6,501.1 1246.1,500.7 1243.5,496.9 1241.2,492.0 1241.2,490.0ZM1348.2,466.0 1351.3,468.3 1355.1,472.8 1356.2,475.1 1360.0,475.1 1360.8,478.2 1366.5,479.3 1369.6,478.2 1369.6,481.6 1366.5,484.3 1364.6,484.3 1364.6,487.0 1362.0,491.2 1358.1,493.5 1355.5,492.3 1357.0,488.5 1355.5,487.0 1352.4,485.1 1355.5,482.8 1355.8,479.7 1355.1,475.9 1353.9,473.6 1350.1,469.0 1348.2,466.0ZM1348.2,489.3 1352.8,490.8 1354.3,493.9 1351.3,498.1 1348.6,500.7 1349.3,502.3 1344.8,503.4 1342.5,506.1 1340.9,509.9 1337.1,512.2 1332.1,512.6 1328.3,511.1 1324.5,509.5 1328.3,505.7 1332.1,502.7 1337.9,499.6 1342.5,495.8 1344.8,493.1 1346.3,490.4 1348.2,489.3ZM363.5,250.8 367.0,247.7 370.8,246.6 376.5,246.2 382.2,246.9 384.2,248.5 389.9,249.2 393.7,251.9 397.5,253.4 401.4,255.3 404.4,257.3 391.8,258.4 392.6,255.7 386.8,251.9 375.4,249.6 371.5,247.7 367.3,249.6 363.5,250.8ZM403.7,263.8 407.9,258.4 414.0,258.8 420.5,259.2 423.5,261.1 426.6,263.4 425.1,264.5 420.5,264.5 415.1,266.8 411.3,264.9 403.7,263.8ZM388.7,264.5 396.4,265.3 396.4,266.0 393.0,266.6 388.7,264.9 388.7,264.5ZM431.2,264.1 436.9,264.5 436.1,265.7 431.2,265.7 431.2,264.1ZM461.8,152.5 465.2,147.2 468.3,141.4 470.9,138.4 475.9,137.2 474.0,142.6 475.9,143.7 483.2,145.3 483.5,149.1 486.2,152.1 486.6,154.8 483.5,156.0 481.6,152.9 475.9,155.2 474.0,152.5 468.3,152.5 461.8,152.5ZM197.6,140.7 208.3,142.2 216.4,149.5 210.2,147.9 204.5,145.3 197.6,140.7ZM179.7,127.7 184.2,128.4 186.5,134.6 182.3,132.3 179.7,127.7ZM97.5,115.4 105.1,113.1 105.9,115.1 100.1,117.4 97.5,115.4ZM91.7,257.3 95.6,258.8 93.7,261.8 91.7,259.9 91.7,257.3ZM87.9,254.2 91.0,255.0 89.8,255.7 87.9,254.2ZM83.3,252.3 85.2,252.7 84.1,253.0 83.3,252.3ZM77.6,250.0 79.1,250.0 78.4,250.8 77.6,250.0ZM454.9,531.3 460.6,530.6 467.1,531.7 462.5,534.4 456.8,533.6 454.9,531.3ZM951.0,521.8 956.8,522.2 956.4,524.4 951.8,524.1 951.0,521.8ZM426.6,535.5 427.0,537.1 431.9,540.9 438.8,543.6 433.9,545.5 424.3,546.2 416.7,543.2 412.8,540.9 416.7,540.5 420.5,536.7 426.6,535.5ZM826.0,194.6 823.7,194.6 820.3,193.8 816.1,196.5 813.4,196.9 808.5,194.6 805.0,193.8 804.3,195.7 800.8,196.1 796.2,194.2 792.8,193.0 792.4,190.0 791.3,187.3 789.0,184.2 788.2,181.6 791.3,180.0 798.1,180.0 800.8,178.9 798.9,177.7 798.9,177.0 796.2,175.8 795.1,177.7 791.3,178.9 788.2,180.4 787.4,179.3 787.1,178.5 781.7,178.1 779.8,180.4 777.5,180.8 775.6,179.7 774.8,182.3 776.7,185.0 775.6,186.2 779.8,188.4 778.6,189.6 776.7,191.1 776.3,194.9 774.1,194.9 772.5,193.4 771.0,193.8 769.5,190.4 769.5,188.1 767.6,185.8 765.6,183.1 762.2,180.0 762.2,176.2 761.4,174.3 758.8,172.4 757.2,171.6 750.7,168.2 746.2,165.5 745.0,162.5 743.1,161.3 741.2,163.2 740.0,160.5 740.8,160.2 735.1,160.9 735.4,163.2 735.1,165.5 739.7,167.8 742.3,172.0 746.2,174.3 750.0,174.3 749.2,176.2 752.7,177.4 756.9,179.3 758.8,181.2 758.0,182.3 756.5,180.8 753.8,179.7 751.5,181.2 751.5,183.1 753.4,185.0 753.4,185.8 751.1,187.7 749.6,189.6 747.7,189.2 748.8,186.5 750.0,184.6 748.4,182.0 746.5,181.2 745.4,180.4 744.6,179.3 742.3,178.5 740.4,177.0 737.7,176.6 734.7,174.7 730.9,172.4 728.2,170.1 727.4,168.2 726.3,165.9 722.1,164.7 719.4,166.3 716.7,167.0 716.0,167.4 713.3,169.3 711.0,169.7 708.3,169.0 704.1,168.2 701.4,169.0 699.9,171.6 700.3,174.3 696.5,176.2 691.9,177.7 691.1,178.9 688.0,182.0 686.9,183.5 688.8,186.2 686.1,188.1 685.0,190.7 682.3,191.5 680.4,193.8 678.9,193.8 671.2,194.2 667.4,196.5 664.0,194.9 659.8,192.3 653.6,193.0 651.7,186.5 654.0,180.8 654.8,177.0 652.5,170.1 656.3,168.6 665.1,167.8 673.5,168.2 681.2,168.6 682.3,168.2 683.5,164.0 683.8,160.2 683.5,157.9 679.6,154.4 677.3,152.9 671.2,151.8 669.7,149.5 674.7,147.9 681.9,148.7 680.8,144.5 683.1,144.5 683.8,146.0 688.4,145.3 693.8,143.0 694.9,139.9 697.6,139.1 701.4,138.0 704.1,135.7 706.0,131.9 709.1,130.7 714.8,130.3 719.0,129.6 720.9,128.1 720.9,124.6 719.4,122.3 719.0,118.5 720.9,116.2 728.6,113.9 727.8,118.5 727.0,120.4 725.5,123.1 724.7,124.6 726.3,126.1 729.3,128.1 730.1,128.1 735.1,126.9 735.8,126.5 739.7,126.1 742.3,128.4 749.2,127.3 756.9,125.0 759.5,126.5 763.7,126.5 764.5,124.6 768.3,123.1 768.7,121.6 768.3,117.4 770.6,114.7 774.4,113.9 777.9,116.6 780.2,116.6 781.3,112.8 781.7,111.2 777.9,110.5 777.9,108.2 782.5,107.0 787.4,106.6 795.1,107.0 802.7,105.5 798.9,104.4 797.0,102.8 791.3,103.2 783.6,104.4 776.0,105.5 772.1,103.6 769.5,102.1 769.9,98.2 769.5,95.6 770.2,92.9 774.1,90.6 779.8,87.2 785.1,86.0 784.8,84.1 780.6,82.9 772.9,83.7 770.2,86.8 769.1,88.7 765.6,91.0 760.7,92.9 756.9,95.6 754.6,95.9 753.8,99.4 753.8,102.4 758.8,104.4 759.9,107.0 756.1,109.7 751.9,110.9 752.3,114.7 750.7,117.7 749.2,119.6 747.7,119.6 742.7,121.9 742.3,122.7 737.7,122.7 737.0,120.4 736.2,119.3 737.4,117.7 733.5,113.9 730.9,110.9 730.9,108.6 728.6,105.5 727.4,108.2 724.4,109.3 718.6,112.4 714.8,112.8 709.5,109.3 707.5,103.6 707.2,100.5 707.2,97.5 711.7,95.6 716.7,93.3 721.7,91.4 725.5,89.8 729.3,86.8 733.9,84.1 736.2,81.4 742.3,77.2 745.4,74.5 751.1,72.6 758.8,68.4 766.4,66.9 772.1,65.7 777.9,64.2 786.3,62.7 793.2,63.1 797.0,63.8 802.7,64.6 806.5,65.7 800.8,67.3 805.8,67.7 810.4,67.7 814.2,69.2 816.1,70.0 825.7,70.3 833.3,73.4 840.9,75.7 844.8,79.1 845.5,80.3 840.9,81.4 835.2,82.2 825.7,81.0 819.9,79.9 812.3,78.0 816.1,79.5 821.1,82.9 821.1,87.9 825.7,89.1 831.4,90.6 833.3,89.8 829.5,86.0 835.2,86.8 842.9,87.5 840.9,84.1 848.6,80.7 856.2,81.4 854.3,78.4 855.5,73.4 853.6,72.2 860.1,72.6 863.9,75.3 862.0,78.4 867.7,78.7 871.5,76.1 879.2,74.5 886.8,72.6 893.7,71.1 894.5,73.4 900.2,72.6 907.8,71.9 913.6,70.7 917.4,71.9 919.3,68.0 932.7,69.6 940.3,70.7 944.2,71.5 949.9,73.4 944.2,68.8 943.4,64.2 946.1,61.2 951.8,56.2 955.6,53.9 963.3,55.4 966.3,57.3 965.2,63.1 967.1,70.7 965.2,76.4 970.2,79.1 972.8,74.5 970.9,66.9 969.0,61.2 974.7,56.2 984.3,58.1 986.2,59.2 993.8,58.1 997.7,60.4 1005.3,65.0 1002.6,60.0 995.8,53.5 1009.1,52.4 1018.7,51.6 1020.6,47.8 1035.9,45.5 1051.2,44.0 1062.7,42.8 1070.3,42.0 1077.9,38.2 1086.7,37.5 1093.2,39.0 1097.1,40.9 1112.3,41.3 1120.0,44.0 1121.9,46.6 1108.5,49.7 1108.5,51.6 1116.2,52.4 1106.6,53.5 1097.1,54.7 1110.4,52.0 1120.0,52.4 1131.5,53.1 1142.9,55.4 1158.2,55.4 1162.0,52.8 1173.5,53.5 1181.2,56.2 1181.2,61.2 1188.8,63.8 1196.4,61.2 1207.9,60.8 1215.6,61.2 1223.2,58.1 1223.2,56.2 1230.8,56.6 1246.1,58.1 1257.6,59.2 1261.4,61.2 1271.0,63.5 1284.4,63.1 1295.8,63.8 1303.5,68.4 1314.9,68.0 1326.4,68.4 1332.1,66.9 1339.8,70.7 1337.9,66.9 1349.3,67.7 1360.8,68.0 1372.3,70.7 1376.1,71.1M0.0,71.1 9.6,73.8 19.1,76.4 30.6,78.4 38.2,81.4 39.4,82.2 34.4,84.1 28.7,87.2 26.0,88.3 17.2,86.8 15.3,84.1 5.7,84.1 0.0,85.2M1376.1,86.0 1366.5,87.2 1370.4,91.7 1372.3,95.6 1364.6,95.6 1373.0,96.3 1357.0,98.2 1347.4,101.3 1339.8,105.1 1326.4,104.0 1318.8,105.5 1313.0,105.9 1311.9,109.7 1311.1,112.8 1309.2,113.5 1311.1,119.6 1307.3,124.2 1299.6,126.1 1299.6,131.1 1294.7,131.9 1293.2,135.7 1287.0,139.5 1284.4,133.8 1283.2,128.1 1282.8,120.4 1287.4,114.7 1293.9,112.0 1299.6,107.0 1306.5,104.0 1313.0,99.4 1314.9,95.6 1309.2,99.4 1299.6,98.2 1297.7,100.1 1288.2,98.6 1284.4,102.1 1280.5,107.4 1265.2,107.0 1257.6,107.0 1246.1,107.8 1234.7,107.8 1225.1,112.8 1217.5,117.4 1211.7,123.1 1206.0,125.0 1213.6,128.1 1215.6,128.8 1221.3,127.3 1227.0,130.7 1228.2,133.8 1227.0,137.6 1225.1,143.3 1224.3,149.1 1219.4,153.7 1216.7,157.5 1209.8,163.6 1205.2,168.2 1197.2,170.9 1192.6,169.3 1188.8,171.6 1187.7,172.8 1184.2,175.8 1183.8,178.5 1177.3,181.6 1175.4,183.5 1175.0,184.6 1178.9,187.3 1182.7,193.0 1183.1,196.9 1181.9,199.9 1177.3,201.1 1171.6,203.0 1170.8,201.4 1171.6,196.9 1172.4,193.0 1172.0,191.1 1167.8,190.0 1165.9,187.3 1167.0,183.5 1164.0,181.6 1163.2,182.0 1156.3,183.5 1152.5,185.8 1152.5,183.5 1154.4,179.7 1153.6,178.5 1150.6,178.1 1145.2,182.0 1138.3,184.6 1141.0,188.4 1142.9,191.5 1148.7,190.7 1152.5,191.1 1156.7,191.9 1154.4,193.4 1148.3,196.5 1144.1,199.5 1144.1,201.8 1147.9,205.3 1150.2,209.5 1154.0,214.1 1154.0,216.4 1149.8,218.3 1153.6,219.8 1154.4,220.6 1152.5,225.5 1150.6,227.4 1146.8,232.0 1145.2,235.1 1142.2,239.7 1139.5,241.2 1135.3,244.6 1134.1,245.4 1127.6,247.7 1124.6,249.2 1121.9,249.6 1116.2,251.1 1112.3,252.3 1110.1,253.0 1109.3,256.9 1107.4,254.2 1106.6,252.3 1102.8,251.5 1100.9,252.3 1096.3,255.0 1093.2,259.9 1092.1,262.6 1095.1,267.6 1099.0,271.4 1102.0,272.9 1104.7,279.0 1105.8,284.8 1105.5,289.4 1102.8,292.4 1099.0,294.7 1097.1,295.1 1095.9,298.2 1091.3,300.1 1088.6,301.6 1089.4,297.0 1087.5,295.1 1083.7,294.0 1081.8,290.5 1079.9,287.8 1074.1,285.9 1073.7,283.2 1072.2,282.9 1070.3,283.6 1070.3,288.6 1068.4,292.4 1067.2,298.2 1069.5,299.3 1071.1,302.0 1072.2,306.6 1076.0,308.1 1078.7,310.8 1082.5,313.4 1083.3,317.3 1083.3,321.1 1083.7,324.5 1086.4,329.1 1083.3,329.1 1079.9,326.8 1078.7,326.1 1075.3,323.4 1073.4,319.9 1071.8,315.4 1071.4,313.4 1070.3,309.6 1068.4,306.6 1063.8,304.3 1063.8,300.1 1064.9,294.3 1064.6,288.6 1063.4,282.9 1061.9,277.9 1061.5,272.5 1060.7,271.4 1058.5,269.5 1056.2,271.4 1052.7,274.1 1048.5,273.3 1049.3,267.6 1047.4,262.6 1045.5,258.8 1042.8,256.9 1040.5,254.2 1039.0,249.2 1035.9,247.7 1034.0,249.6 1028.3,251.1 1024.4,251.5 1020.6,253.0 1019.8,256.1 1019.5,257.3 1016.0,258.8 1013.0,260.7 1009.1,264.5 1006.5,266.8 1002.6,271.0 998.4,273.3 994.6,276.0 994.2,281.7 995.0,284.4 993.8,288.6 993.1,294.3 993.1,295.1 990.0,297.8 989.6,299.3 987.0,300.8 984.3,303.5 981.6,301.2 979.3,296.2 977.8,291.3 974.7,286.7 974.0,285.2 972.1,279.0 970.2,275.6 968.2,269.5 966.3,261.8 965.9,256.1 965.6,253.4 965.2,250.4 963.3,253.4 959.4,255.0 957.5,255.0 952.6,250.4 951.8,248.8 955.6,246.9 951.8,246.6 948.7,243.9 946.1,242.7 944.2,239.7 942.2,237.4 934.6,238.1 925.0,238.5 923.1,238.5 915.5,237.4 909.8,236.6 906.7,232.4 903.6,230.9 897.1,232.8 892.6,232.0 888.7,229.3 884.9,227.8 882.2,224.0 879.9,219.8 875.4,218.3 873.8,219.8 871.5,221.7 873.4,225.5 874.6,228.6 879.2,232.4 879.9,236.2 882.2,238.9 883.0,235.1 885.3,236.2 884.9,240.4 886.1,242.7 890.6,242.3 896.0,241.2 899.4,237.8 902.5,234.7 903.6,233.9 903.6,238.9 904.4,240.8 911.7,244.3 916.6,248.5 913.6,254.2 911.7,256.5 909.0,261.8 905.9,263.8 899.4,267.6 894.5,269.5 887.6,272.5 879.2,277.1 875.4,279.8 869.6,282.9 862.0,284.8 860.1,285.5 854.3,285.9 853.2,283.6 852.4,279.0 851.7,275.2 851.3,271.4 848.6,267.6 844.8,261.8 840.9,256.9 837.9,252.3 835.2,246.6 831.4,241.6 829.5,237.0 825.7,232.0 821.8,227.4 821.1,222.1 819.5,227.4 818.8,228.2 815.3,225.1 812.7,220.2M798.9,177.0 806.5,177.4 814.2,173.9 821.8,173.5 826.8,176.6 833.3,177.7 839.8,177.7 847.1,175.5 846.7,172.0 844.8,170.1 839.8,167.8 835.2,165.1 832.5,163.6 828.3,162.1 833.3,158.6 837.9,154.4 831.4,154.8 822.6,157.9 821.1,159.4 823.7,161.7 822.2,163.2 817.3,164.7 812.7,161.3 816.5,158.3 810.4,157.5 809.6,156.0 805.8,156.7 802.0,160.2 801.6,161.7 797.8,165.5 797.4,168.6 795.1,169.3 793.6,172.0 795.5,174.3 796.2,175.8M867.7,163.2 870.0,170.1 872.7,173.9 876.1,177.0 880.3,180.0 877.3,180.8 876.1,185.4 875.0,187.7 875.4,190.7 880.3,192.3 886.8,193.8 894.1,193.4 894.1,191.1 893.7,186.2 890.6,183.5 890.6,181.6 889.9,178.5 890.3,177.0 889.9,174.7 888.7,172.0 884.9,169.0 880.3,165.1 883.8,164.0 883.0,161.3 890.6,161.3 890.6,155.6 886.8,154.8 883.0,155.2 877.3,156.7 873.8,159.4 870.0,160.2 867.7,163.2ZM666.3,143.0 670.8,142.2 674.7,142.2 676.6,140.7 680.8,141.1 684.2,140.3 689.2,140.3 693.4,139.1 691.9,138.0 690.3,137.6 694.2,135.3 694.5,133.0 690.0,132.3 688.4,131.9 689.2,130.0 687.7,129.6 687.3,127.7 683.5,125.8 681.9,122.3 680.4,120.8 675.8,120.4 678.1,119.3 680.0,116.6 681.2,114.3 674.7,113.9 672.0,114.7 673.1,113.1 676.2,110.5 668.9,110.5 668.2,112.8 665.9,115.4 666.6,118.5 667.0,120.4 666.6,123.1 669.7,121.6 669.7,124.2 668.6,125.0 674.3,124.6 675.1,126.1 676.6,128.1 676.6,130.3 671.6,130.7 670.5,132.6 672.4,133.8 670.5,135.7 667.8,136.1 668.9,137.2 674.7,138.0 677.7,137.2 675.8,138.8 672.0,138.8 669.7,141.1 666.3,143.0ZM664.0,134.9 665.1,131.9 664.7,128.4 667.0,126.5 665.5,123.5 661.3,123.1 656.7,123.8 655.6,126.1 649.8,127.3 650.6,130.7 652.5,131.5 651.0,133.8 648.3,135.7 649.8,137.2 651.7,137.6 656.7,136.5 661.3,135.3 664.0,134.9ZM884.9,61.2 888.7,57.3 894.5,53.5 902.1,48.5 911.7,44.7 925.0,42.8 940.3,40.9 949.9,40.9 948.0,43.2 932.7,45.9 917.4,49.7 909.8,53.5 905.9,57.3 902.1,61.2 907.8,64.2 898.3,64.6 892.6,63.8 884.9,61.2ZM730.1,31.7 741.6,29.8 753.0,28.7 764.5,27.5 779.8,27.5 791.3,28.7 779.8,31.3 768.3,33.3 770.2,35.5 760.7,38.2 753.0,41.3 745.4,39.4 741.6,37.1 739.7,35.2 730.1,32.9 730.1,31.7ZM1188.4,204.5 1194.5,203.4 1198.4,203.0 1204.1,202.2 1204.9,205.3 1207.1,206.4 1211.4,203.0 1211.7,202.2 1216.3,202.2 1218.6,200.7 1219.4,202.2 1222.4,199.5 1223.2,200.7 1226.3,198.0 1225.5,193.8 1227.0,190.0 1227.0,188.1 1229.3,185.4 1230.8,183.1 1228.9,179.7 1228.2,176.2 1226.6,175.8 1224.3,177.0 1223.2,179.7 1222.8,182.7 1222.1,186.5 1219.4,189.2 1218.6,190.0 1215.6,192.7 1211.7,191.1 1212.9,191.1 1210.6,194.2 1207.9,196.9 1207.1,198.4 1202.2,198.4 1196.4,198.8 1194.5,199.5 1190.7,202.2 1188.4,203.4 1188.4,204.5ZM1188.4,204.9 1191.5,206.0 1192.6,208.3 1191.5,212.1 1189.9,214.4 1187.7,216.0 1185.7,214.8 1186.1,211.4 1184.2,209.5 1183.8,207.2 1186.5,206.0 1188.4,204.9ZM1194.5,204.9 1198.7,203.4 1202.6,203.7 1202.9,205.3 1201.0,207.2 1198.4,206.4 1196.4,209.1 1194.5,208.3 1194.1,206.4 1194.5,204.9ZM1224.3,175.8 1227.0,174.7 1225.1,172.0 1228.2,169.3 1229.3,164.4 1230.1,160.9 1233.9,163.6 1239.6,166.3 1243.5,165.1 1244.6,168.6 1242.3,170.1 1236.6,173.2 1235.4,173.9 1230.1,171.6 1227.0,172.8 1224.3,175.8ZM1230.8,126.9 1233.9,126.9 1235.4,131.9 1235.4,137.6 1236.6,143.3 1240.4,147.2 1234.7,146.4 1233.1,151.8 1236.6,155.6 1236.2,157.9 1232.8,156.3 1230.8,158.6 1230.5,154.8 1230.8,149.1 1231.6,143.3 1230.1,137.6 1229.7,131.1 1230.8,126.9ZM1152.5,238.1 1154.0,239.7 1152.1,245.8 1149.8,250.4 1147.5,246.9 1147.5,243.5 1150.6,238.9 1152.5,238.1ZM1109.7,258.0 1112.3,259.2 1110.4,262.6 1106.6,264.9 1103.6,263.0 1103.6,259.9 1106.6,258.0 1109.7,258.0ZM993.8,297.0 998.4,302.0 1000.7,306.6 1000.0,310.0 995.8,311.7 993.8,310.4 993.1,305.8 993.1,302.0 993.8,297.0ZM1149.0,263.8 1155.2,263.8 1155.5,269.5 1152.9,274.1 1153.2,279.8 1156.3,280.2 1159.4,281.7 1162.0,284.8 1162.0,286.3 1158.2,284.8 1154.4,282.5 1150.6,282.1 1149.0,280.2 1150.2,278.7 1147.5,277.9 1146.4,273.3 1147.9,271.4 1148.3,267.6 1149.0,263.8ZM1167.4,297.0 1170.8,302.0 1171.6,306.6 1170.4,310.4 1167.4,313.1 1167.0,309.6 1164.0,311.5 1162.0,308.5 1162.0,305.8 1159.4,306.2 1155.2,307.7 1154.4,304.7 1157.5,302.7 1161.3,303.1 1164.0,301.6 1165.9,300.1 1167.4,297.0ZM1163.2,286.7 1167.0,287.1 1168.5,291.7 1166.6,295.5 1165.1,295.9 1164.3,291.7 1163.2,286.7ZM1154.4,289.4 1158.6,290.5 1159.4,294.3 1160.1,298.2 1158.2,299.7 1156.3,297.0 1156.7,294.3 1154.4,294.0 1154.4,289.4ZM1136.4,302.4 1140.3,298.2 1144.1,294.3 1144.8,291.3 1142.9,294.0 1139.1,298.9 1136.4,302.4ZM1148.3,283.2 1151.7,283.6 1152.5,286.7 1150.6,287.5 1148.3,283.2ZM1105.5,327.6 1107.0,326.8 1112.3,328.4 1113.9,324.5 1120.0,322.2 1123.8,317.3 1129.5,313.4 1134.1,308.1 1137.2,309.6 1138.0,311.9 1142.9,314.6 1140.3,317.6 1137.6,319.2 1138.3,323.0 1139.1,326.1 1138.3,329.9 1142.2,330.6 1138.3,332.6 1137.2,336.4 1134.1,340.2 1133.4,344.0 1131.5,349.0 1126.5,350.1 1125.7,347.5 1120.0,346.7 1115.4,347.5 1109.3,345.2 1108.5,340.2 1105.1,336.4 1104.7,331.4 1105.5,327.6ZM1052.3,313.1 1060.7,314.6 1065.3,320.3 1072.2,326.1 1076.0,326.8 1079.9,330.6 1083.7,333.7 1084.8,338.3 1087.5,341.3 1093.2,345.2 1093.2,347.1 1092.9,351.7 1092.5,356.6 1087.9,356.6 1083.7,353.6 1079.1,349.8 1074.9,345.2 1071.8,339.4 1069.2,334.5 1066.5,330.6 1065.3,328.0 1061.5,324.9 1056.9,320.3 1052.7,315.7 1052.3,313.1ZM1090.2,360.5 1093.6,357.0 1097.1,357.2 1102.8,359.3 1111.6,358.9 1118.1,360.8 1125.3,363.9 1125.3,367.3 1120.0,366.2 1112.3,366.2 1104.7,363.9 1100.9,364.3 1095.1,362.4 1090.2,360.5ZM1126.1,365.8 1130.3,366.2 1128.4,368.1 1126.1,365.8ZM1131.5,366.6 1134.1,367.0 1132.6,368.5 1131.5,366.6ZM1134.5,367.0 1139.1,366.2 1142.9,367.0 1141.0,368.1 1135.3,368.9 1134.5,367.0ZM1146.4,367.0 1152.5,367.0 1158.2,366.2 1157.5,367.7 1150.6,368.5 1146.4,368.1 1146.4,367.0ZM1142.9,370.8 1147.5,370.8 1149.8,373.5 1146.8,373.5 1142.9,370.8ZM1160.5,373.8 1164.0,373.1 1167.8,370.4 1174.3,366.6 1171.6,366.6 1165.9,367.3 1162.0,370.0 1160.5,373.8ZM1146.0,331.4 1149.8,329.5 1158.2,331.0 1164.0,329.9 1166.6,328.4 1164.0,332.6 1158.2,332.9 1152.5,332.6 1147.5,334.5 1146.8,337.9 1150.6,339.8 1154.4,337.9 1159.4,337.9 1156.3,341.0 1153.2,341.7 1155.5,345.9 1157.5,350.1 1155.2,352.8 1152.9,352.8 1152.5,349.8 1150.6,344.8 1147.9,345.9 1148.3,351.7 1147.9,355.5 1144.8,355.5 1144.8,347.8 1142.2,345.2 1144.1,339.1 1146.0,334.5 1146.0,331.4ZM1175.4,331.4 1177.3,326.4 1179.6,328.7 1177.3,332.6 1179.6,335.6 1176.9,337.5 1175.4,331.4ZM1177.3,346.3 1183.1,345.2 1188.0,347.1 1183.1,347.8 1177.3,347.5 1177.3,346.3ZM1169.7,346.7 1174.3,347.1 1172.4,349.0 1169.7,346.7ZM1188.8,337.5 1194.5,336.0 1200.3,337.5 1201.0,343.3 1202.2,345.2 1206.0,347.1 1209.1,342.9 1214.8,340.2 1219.4,342.1 1227.0,344.4 1234.7,347.5 1240.4,349.0 1245.4,353.2 1245.4,355.5 1251.9,357.4 1253.0,360.1 1250.0,360.5 1250.7,362.8 1254.5,365.4 1257.6,368.9 1261.4,372.7 1264.5,373.8 1261.4,375.0 1253.8,373.1 1250.0,370.8 1246.1,365.0 1241.2,363.5 1235.8,366.2 1232.8,369.6 1227.0,369.3 1223.2,365.8 1218.2,365.8 1215.6,366.6 1214.8,363.1 1218.2,362.0 1215.6,355.5 1207.9,352.1 1202.2,349.8 1197.2,349.8 1195.7,347.5 1195.3,345.2 1199.1,343.3 1192.6,342.9 1188.8,339.8 1188.8,337.5ZM1254.9,356.3 1259.5,355.5 1264.5,355.5 1269.1,350.5 1270.2,353.2 1267.2,355.9 1264.5,358.2 1259.5,358.6 1254.9,356.3ZM1264.5,344.4 1269.1,347.1 1272.9,351.7 1271.4,349.4 1267.2,345.9 1264.5,344.4ZM1279.4,355.5 1283.6,359.3 1281.7,360.5 1279.4,357.0 1279.4,355.5ZM1286.3,360.5 1290.1,362.8 1293.9,365.0 1290.1,364.3 1286.3,360.5ZM1297.7,365.8 1302.7,369.6 1299.6,370.8 1297.7,368.9 1297.7,365.8ZM1304.6,370.8 1308.4,374.6 1305.4,374.2 1304.6,370.8ZM1324.9,390.7 1327.6,394.9 1325.6,394.1 1324.9,390.7ZM1328.3,396.4 1329.5,397.5 1327.9,397.5 1328.3,396.4ZM1314.9,411.7 1320.7,414.7 1326.4,419.7 1324.5,419.7 1318.8,416.3 1314.9,412.4 1314.9,411.7ZM1232.8,375.4 1235.4,381.5 1237.7,389.5 1243.5,391.4 1246.1,399.5 1247.3,406.7 1250.0,408.2 1256.8,412.4 1260.3,419.7 1264.5,424.3 1272.5,431.2 1273.7,438.8 1275.2,443.8 1272.9,453.0 1271.0,458.3 1266.4,463.7 1264.1,469.0 1261.4,475.1 1261.0,477.8 1251.9,479.7 1247.7,483.9 1244.2,481.3 1241.2,480.9 1236.6,482.8 1229.3,480.9 1225.1,479.7 1222.4,475.1 1221.3,471.3 1217.5,470.5 1217.5,467.9 1215.2,460.6 1214.4,458.7 1213.6,462.5 1211.0,467.5 1207.1,467.1 1204.9,464.4 1201.0,459.8 1194.5,456.8 1188.8,454.9 1181.2,455.3 1173.5,457.6 1167.8,459.1 1162.0,462.5 1160.1,464.1 1154.4,464.1 1146.8,464.1 1139.1,468.6 1133.8,468.3 1127.6,465.6 1130.3,456.8 1127.6,450.3 1126.1,444.6 1123.8,439.6 1121.9,435.8 1121.9,433.1 1124.6,435.0 1121.5,428.1 1122.7,420.9 1124.2,417.8 1126.1,418.2 1134.1,413.2 1142.9,410.9 1151.3,407.9 1155.2,400.2 1157.8,397.5 1160.5,400.6 1160.5,399.1 1164.0,396.8 1165.9,393.7 1169.7,388.7 1173.1,387.2 1178.5,391.4 1183.4,391.4 1184.2,386.1 1185.7,384.2 1188.0,381.9 1194.5,378.4 1198.4,379.6 1204.1,381.1 1211.0,380.3 1211.4,381.9 1207.9,386.1 1207.5,389.9 1206.0,391.8 1209.8,394.9 1213.6,396.4 1221.3,401.4 1226.3,401.4 1228.6,395.6 1229.3,388.0 1229.7,382.2 1230.8,377.3 1232.8,375.4ZM1241.2,490.0 1248.0,491.6 1253.8,490.4 1254.9,493.1 1254.5,495.8 1253.4,499.6 1249.6,501.1 1246.1,500.7 1243.5,496.9 1241.2,492.0 1241.2,490.0ZM1348.2,466.0 1351.3,468.3 1355.1,472.8 1356.2,475.1 1360.0,475.1 1360.8,478.2 1366.5,479.3 1369.6,478.2 1369.6,481.6 1366.5,484.3 1364.6,484.3 1364.6,487.0 1362.0,491.2 1358.1,493.5 1355.5,492.3 1357.0,488.5 1355.5,487.0 1352.4,485.1 1355.5,482.8 1355.8,479.7 1355.1,475.9 1353.9,473.6 1350.1,469.0 1348.2,466.0ZM1348.2,489.3 1352.8,490.8 1354.3,493.9 1351.3,498.1 1348.6,500.7 1349.3,502.3 1344.8,503.4 1342.5,506.1 1340.9,509.9 1337.1,512.2 1332.1,512.6 1328.3,511.1 1324.5,509.5 1328.3,505.7 1332.1,502.7 1337.9,499.6 1342.5,495.8 1344.8,493.1 1346.3,490.4 1348.2,489.3ZM363.5,250.8 367.0,247.7 370.8,246.6 376.5,246.2 382.2,246.9 384.2,248.5 389.9,249.2 393.7,251.9 397.5,253.4 401.4,255.3 404.4,257.3 391.8,258.4 392.6,255.7 386.8,251.9 375.4,249.6 371.5,247.7 367.3,249.6 363.5,250.8ZM403.7,263.8 407.9,258.4 414.0,258.8 420.5,259.2 423.5,261.1 426.6,263.4 425.1,264.5 420.5,264.5 415.1,266.8 411.3,264.9 403.7,263.8ZM388.7,264.5 396.4,265.3 396.4,266.0 393.0,266.6 388.7,264.9 388.7,264.5ZM431.2,264.1 436.9,264.5 436.1,265.7 431.2,265.7 431.2,264.1ZM461.8,152.5 465.2,147.2 468.3,141.4 470.9,138.4 475.9,137.2 474.0,142.6 475.9,143.7 483.2,145.3 483.5,149.1 486.2,152.1 486.6,154.8 483.5,156.0 481.6,152.9 475.9,155.2 474.0,152.5 468.3,152.5 461.8,152.5ZM197.6,140.7 208.3,142.2 216.4,149.5 210.2,147.9 204.5,145.3 197.6,140.7ZM179.7,127.7 184.2,128.4 186.5,134.6 182.3,132.3 179.7,127.7ZM97.5,115.4 105.1,113.1 105.9,115.1 100.1,117.4 97.5,115.4ZM91.7,257.3 95.6,258.8 93.7,261.8 91.7,259.9 91.7,257.3ZM87.9,254.2 91.0,255.0 89.8,255.7 87.9,254.2ZM83.3,252.3 85.2,252.7 84.1,253.0 83.3,252.3ZM77.6,250.0 79.1,250.0 78.4,250.8 77.6,250.0ZM454.9,531.3 460.6,530.6 467.1,531.7 462.5,534.4 456.8,533.6 454.9,531.3ZM951.0,521.8 956.8,522.2 956.4,524.4 951.8,524.1 951.0,521.8ZM426.6,535.5 427.0,537.1 431.9,540.9 438.8,543.6 433.9,545.5 424.3,546.2 416.7,543.2 412.8,540.9 416.7,540.5 420.5,536.7 426.6,535.5ZM0.0,657.1 35.5,654.8 60.8,657.9 89.4,659.4 117.7,657.9 143.0,657.1 121.6,655.9 103.6,654.0 101.7,648.7 89.4,645.2 107.0,644.1 125.0,641.8 126.9,638.0 107.0,635.7 85.6,633.4 82.9,628.4 103.6,628.4 126.9,625.0 130.3,621.2 150.2,619.2 171.6,617.0 199.9,615.4 214.4,614.7 235.8,615.8 251.9,615.8 260.7,619.6 282.1,620.4 303.5,621.9 305.4,618.5 292.8,615.4 296.6,609.3 319.6,609.3 321.5,613.1 342.9,613.1 348.2,612.0 357.4,614.3 379.6,614.3 396.8,617.0 414.4,614.3 428.1,612.0 431.6,607.4 429.3,600.1 425.4,595.2 431.6,587.5 444.2,581.4 456.4,578.0 467.9,577.2 466.3,580.3 454.1,583.7 446.5,587.1 439.2,591.3 438.1,595.2 446.5,600.1 453.0,607.4 455.3,615.0 449.1,618.5 436.5,621.9 416.7,626.1 404.4,627.3 391.8,627.7 389.5,632.2 390.7,637.2 399.5,641.0 416.7,643.3 434.2,646.0 454.1,648.3 465.2,652.1 479.0,649.8 498.8,647.1 523.7,648.3 538.6,644.9 558.5,643.3 575.7,642.2 578.3,639.9 573.4,636.8 553.5,636.1 550.8,633.4 558.5,631.1 578.3,627.3 598.2,623.4 615.4,621.2 626.9,618.5 628.0,615.0 638.0,611.2 647.9,607.4 657.9,607.8 662.8,606.2 672.8,607.0 687.7,607.8 703.3,605.5 716.7,602.0 723.2,602.0 729.7,605.5 737.7,602.0 748.1,602.0 766.8,602.0 774.8,604.7 793.2,603.2 811.5,600.1 817.3,595.5 827.6,599.4 835.2,601.3 845.9,597.1 864.3,592.9 872.3,592.1 883.0,588.3 893.3,586.0 904.0,586.0 909.4,589.4 919.7,592.9 926.6,594.4 933.1,591.7 951.4,593.6 954.1,598.6 947.6,602.8 947.6,608.5 954.1,610.8 959.4,609.3 968.6,602.8 985.8,599.8 991.2,596.3 1001.5,592.1 1014.9,591.0 1023.7,587.9 1029.4,591.3 1052.0,592.1 1067.6,591.3 1081.0,584.8 1094.0,590.2 1107.4,589.0 1121.9,586.0 1131.1,589.4 1146.8,591.7 1157.5,587.9 1178.5,589.0 1202.2,586.8 1204.5,583.7 1207.9,585.6 1210.2,590.2 1225.9,589.0 1244.6,589.0 1248.4,593.6 1260.3,596.3 1274.8,597.8 1277.5,596.3 1297.4,600.5 1308.1,604.0 1329.1,605.5 1342.1,607.4 1342.8,610.8 1334.4,616.6 1323.7,618.5 1314.6,623.8 1313.0,629.6 1317.2,634.5 1326.0,634.9 1323.7,637.2 1306.5,637.6 1299.3,643.7 1305.4,647.5 1321.1,651.7 1334.4,654.0 1350.1,656.7 1376.1,657.1M63.1,634.9 72.6,633.4 78.4,635.7 70.7,637.6 63.1,634.9ZM481.3,642.2 491.2,636.1 501.1,632.2 513.7,631.5 522.5,634.9 521.0,639.9 508.8,642.2 491.2,643.3 481.3,642.2ZM411.7,603.6 419.3,596.3 425.4,607.4 411.7,603.6ZM399.5,608.2 410.9,606.6 410.9,610.5 399.5,610.8 399.5,608.2ZM434.2,640.3 458.7,638.7 460.2,642.6 434.2,643.3 434.2,640.3ZM208.3,58.9 217.1,62.7 227.4,61.2 233.9,58.5 239.7,54.7 246.6,53.5 238.9,50.8 225.5,49.7 212.1,50.5 214.1,53.5 208.3,56.2 208.3,58.9ZM238.9,67.3 246.6,69.6 254.2,72.6 267.6,72.2 275.2,71.9 286.7,70.3 298.2,71.1 300.1,68.0 296.2,65.0 302.7,64.2 302.0,60.0 294.3,57.0 284.8,53.9 279.0,54.7 275.2,57.0 275.2,60.0 267.6,57.3 265.7,55.4 256.1,56.2 250.4,54.3 238.9,55.8 233.2,60.8 238.9,61.9 248.5,61.2 238.9,64.6 256.1,65.7 248.5,67.3 238.9,67.3ZM307.7,70.0 315.4,67.7 321.9,69.6 321.1,72.2 311.5,72.6 307.7,70.0ZM296.2,55.4 305.8,51.6 315.4,52.8 319.2,56.2 315.4,60.4 307.7,61.9 298.2,59.2 296.2,55.4ZM322.2,52.0 332.6,50.8 342.9,52.4 340.2,56.2 330.6,59.2 323.0,57.3 322.2,52.0ZM240.8,46.6 252.3,48.9 263.8,49.7 275.2,48.2 283.6,47.4 282.9,44.3 273.3,42.0 267.6,40.9 259.9,42.8 252.3,41.3 242.7,42.0 238.9,44.0 240.8,46.6ZM217.9,44.0 227.4,44.3 238.9,40.9 244.6,38.2 235.1,38.6 225.5,40.9 217.9,44.0ZM290.5,47.4 305.8,47.8 314.2,45.5 311.5,41.7 302.0,41.3 290.5,42.8 290.5,47.4ZM319.2,47.8 324.9,49.3 330.6,47.8 328.7,45.5 321.1,45.9 319.2,47.8ZM336.4,49.3 351.7,49.7 367.0,49.7 380.3,49.3 384.2,46.6 380.3,44.7 370.8,44.7 359.3,45.1 351.7,42.8 342.1,41.7 328.7,40.5 319.2,41.3 324.9,43.2 334.5,44.3 336.4,47.0 336.4,49.3ZM345.9,42.0 359.3,42.8 374.6,42.4 386.1,43.2 389.9,40.1 397.5,36.7 401.4,33.6 409.0,31.3 412.8,29.4 428.1,26.0 443.4,22.6 453.0,19.9 447.2,17.6 428.1,16.8 401.4,16.8 382.2,17.6 363.1,19.5 351.7,21.0 340.2,22.9 344.0,26.8 355.5,26.8 359.3,30.6 351.7,33.3 355.5,36.3 347.8,38.2 345.9,42.0ZM332.6,35.5 344.0,34.8 353.6,32.5 353.6,28.7 344.0,25.6 334.5,23.7 323.0,26.8 321.1,30.6 326.8,34.0 332.6,35.5ZM290.5,35.2 302.0,36.3 309.6,33.3 302.0,31.0 290.5,32.5 290.5,35.2ZM440.7,99.0 433.9,97.5 426.2,96.3 416.7,93.7 410.9,89.8 403.3,87.9 391.8,88.7 389.9,86.0 405.2,84.1 407.1,80.3 410.9,76.4 403.3,73.8 393.7,68.8 386.1,65.7 376.5,66.9 363.1,66.9 351.7,65.0 345.9,61.2 344.0,55.4 351.7,52.4 363.1,53.5 374.6,52.8 380.3,56.2 389.9,55.8 397.5,57.3 403.3,60.0 414.7,62.3 426.2,65.7 430.0,69.6 433.9,73.8 443.4,77.2 451.1,79.1 453.0,81.4 445.3,85.2 439.6,83.7 431.9,82.9 437.7,87.2 439.6,91.7 440.7,95.6 440.7,99.0ZM378.4,53.1 388.0,52.8 397.5,55.8 388.0,56.2 380.3,55.4 378.4,53.1ZM355.5,85.2 361.2,82.6 365.0,84.1 368.9,82.6 376.5,87.9 381.5,90.6 378.4,92.1 370.8,90.6 363.1,93.3 355.5,91.4 359.3,88.7 355.5,85.2ZM442.3,144.1 451.1,145.6 451.8,146.8 445.3,146.0 442.3,144.1ZM859.3,26.4 871.5,28.3 884.9,27.5 879.2,25.2 865.8,25.2 859.3,26.4ZM886.8,27.5 905.9,28.3 925.0,26.0 909.8,23.3 894.5,24.8 886.8,27.5ZM1035.9,26.8 1047.4,23.7 1062.7,24.5 1072.2,29.4 1058.8,33.3 1043.5,30.6 1035.9,26.8ZM1070.3,32.9 1081.8,31.7 1090.6,34.4 1081.8,36.7 1070.3,35.2 1070.3,32.9ZM1211.7,46.6 1219.4,43.6 1234.7,44.0 1242.3,45.9 1236.6,48.2 1219.4,48.9 1211.7,46.6ZM1246.1,46.6 1257.6,45.5 1265.2,47.8 1255.7,48.9 1246.1,46.6ZM1223.2,52.0 1230.8,52.0 1236.6,54.3 1227.0,54.3 1223.2,52.0ZM0.0,61.2 5.7,61.2 9.6,62.3 5.7,63.5 0.0,63.5M1376.1,61.2 1371.5,62.3 1376.1,63.5M31.7,91.0 38.2,91.0 42.8,92.9 36.3,92.5 31.7,91.0ZM48.5,104.4 54.7,104.0 53.5,105.9 48.5,104.4ZM46.6,130.7 52.4,128.1 51.6,130.0 46.6,130.7ZM0.0,657.1 35.5,654.8 60.8,657.9 89.4,659.4 117.7,657.9 143.0,657.1 121.6,655.9 103.6,654.0 101.7,648.7 89.4,645.2 107.0,644.1 125.0,641.8 126.9,638.0 107.0,635.7 85.6,633.4 82.9,628.4 103.6,628.4 126.9,625.0 130.3,621.2 150.2,619.2 171.6,617.0 199.9,615.4 214.4,614.7 235.8,615.8 251.9,615.8 260.7,619.6 282.1,620.4 303.5,621.9 305.4,618.5 292.8,615.4 296.6,609.3 319.6,609.3 321.5,613.1 342.9,613.1 348.2,612.0 357.4,614.3 379.6,614.3 396.8,617.0 414.4,614.3 428.1,612.0 431.6,607.4 429.3,600.1 425.4,595.2 431.6,587.5 444.2,581.4 456.4,578.0 467.9,577.2 466.3,580.3 454.1,583.7 446.5,587.1 439.2,591.3 438.1,595.2 446.5,600.1 453.0,607.4 455.3,615.0 449.1,618.5 436.5,621.9 416.7,626.1 404.4,627.3 391.8,627.7 389.5,632.2 390.7,637.2 399.5,641.0 416.7,643.3 434.2,646.0 454.1,648.3 465.2,652.1 479.0,649.8 498.8,647.1 523.7,648.3 538.6,644.9 558.5,643.3 575.7,642.2 578.3,639.9 573.4,636.8 553.5,636.1 550.8,633.4 558.5,631.1 578.3,627.3 598.2,623.4 615.4,621.2 626.9,618.5 628.0,615.0 638.0,611.2 647.9,607.4 657.9,607.8 662.8,606.2 672.8,607.0 687.7,607.8 703.3,605.5 716.7,602.0 723.2,602.0 729.7,605.5 737.7,602.0 748.1,602.0 766.8,602.0 774.8,604.7 793.2,603.2 811.5,600.1 817.3,595.5 827.6,599.4 835.2,601.3 845.9,597.1 864.3,592.9 872.3,592.1 883.0,588.3 893.3,586.0 904.0,586.0 909.4,589.4 919.7,592.9 926.6,594.4 933.1,591.7 951.4,593.6 954.1,598.6 947.6,602.8 947.6,608.5 954.1,610.8 959.4,609.3 968.6,602.8 985.8,599.8 991.2,596.3 1001.5,592.1 1014.9,591.0 1023.7,587.9 1029.4,591.3 1052.0,592.1 1067.6,591.3 1081.0,584.8 1094.0,590.2 1107.4,589.0 1121.9,586.0 1131.1,589.4 1146.8,591.7 1157.5,587.9 1178.5,589.0 1202.2,586.8 1204.5,583.7 1207.9,585.6 1210.2,590.2 1225.9,589.0 1244.6,589.0 1248.4,593.6 1260.3,596.3 1274.8,597.8 1277.5,596.3 1297.4,600.5 1308.1,604.0 1329.1,605.5 1342.1,607.4 1342.8,610.8 1334.4,616.6 1323.7,618.5 1314.6,623.8 1313.0,629.6 1317.2,634.5 1326.0,634.9 1323.7,637.2 1306.5,637.6 1299.3,643.7 1305.4,647.5 1321.1,651.7 1334.4,654.0 1350.1,656.7 1376.1,657.1M63.1,634.9 72.6,633.4 78.4,635.7 70.7,637.6 63.1,634.9ZM481.3,642.2 491.2,636.1 501.1,632.2 513.7,631.5 522.5,634.9 521.0,639.9 508.8,642.2 491.2,643.3 481.3,642.2ZM411.7,603.6 419.3,596.3 425.4,607.4 411.7,603.6ZM399.5,608.2 410.9,606.6 410.9,610.5 399.5,610.8 399.5,608.2ZM434.2,640.3 458.7,638.7 460.2,642.6 434.2,643.3 434.2,640.3ZM208.3,58.9 217.1,62.7 227.4,61.2 233.9,58.5 239.7,54.7 246.6,53.5 238.9,50.8 225.5,49.7 212.1,50.5 214.1,53.5 208.3,56.2 208.3,58.9ZM238.9,67.3 246.6,69.6 254.2,72.6 267.6,72.2 275.2,71.9 286.7,70.3 298.2,71.1 300.1,68.0 296.2,65.0 302.7,64.2 302.0,60.0 294.3,57.0 284.8,53.9 279.0,54.7 275.2,57.0 275.2,60.0 267.6,57.3 265.7,55.4 256.1,56.2 250.4,54.3 238.9,55.8 233.2,60.8 238.9,61.9 248.5,61.2 238.9,64.6 256.1,65.7 248.5,67.3 238.9,67.3ZM307.7,70.0 315.4,67.7 321.9,69.6 321.1,72.2 311.5,72.6 307.7,70.0ZM296.2,55.4 305.8,51.6 315.4,52.8 319.2,56.2 315.4,60.4 307.7,61.9 298.2,59.2 296.2,55.4ZM322.2,52.0 332.6,50.8 342.9,52.4 340.2,56.2 330.6,59.2 323.0,57.3 322.2,52.0ZM240.8,46.6 252.3,48.9 263.8,49.7 275.2,48.2 283.6,47.4 282.9,44.3 273.3,42.0 267.6,40.9 259.9,42.8 252.3,41.3 242.7,42.0 238.9,44.0 240.8,46.6ZM217.9,44.0 227.4,44.3 238.9,40.9 244.6,38.2 235.1,38.6 225.5,40.9 217.9,44.0ZM290.5,47.4 305.8,47.8 314.2,45.5 311.5,41.7 302.0,41.3 290.5,42.8 290.5,47.4ZM319.2,47.8 324.9,49.3 330.6,47.8 328.7,45.5 321.1,45.9 319.2,47.8ZM336.4,49.3 351.7,49.7 367.0,49.7 380.3,49.3 384.2,46.6 380.3,44.7 370.8,44.7 359.3,45.1 351.7,42.8 342.1,41.7 328.7,40.5 319.2,41.3 324.9,43.2 334.5,44.3 336.4,47.0 336.4,49.3ZM345.9,42.0 359.3,42.8 374.6,42.4 386.1,43.2 389.9,40.1 397.5,36.7 401.4,33.6 409.0,31.3 412.8,29.4 428.1,26.0 443.4,22.6 453.0,19.9 447.2,17.6 428.1,16.8 401.4,16.8 382.2,17.6 363.1,19.5 351.7,21.0 340.2,22.9 344.0,26.8 355.5,26.8 359.3,30.6 351.7,33.3 355.5,36.3 347.8,38.2 345.9,42.0ZM332.6,35.5 344.0,34.8 353.6,32.5 353.6,28.7 344.0,25.6 334.5,23.7 323.0,26.8 321.1,30.6 326.8,34.0 332.6,35.5ZM290.5,35.2 302.0,36.3 309.6,33.3 302.0,31.0 290.5,32.5 290.5,35.2ZM440.7,99.0 433.9,97.5 426.2,96.3 416.7,93.7 410.9,89.8 403.3,87.9 391.8,88.7 389.9,86.0 405.2,84.1 407.1,80.3 410.9,76.4 403.3,73.8 393.7,68.8 386.1,65.7 376.5,66.9 363.1,66.9 351.7,65.0 345.9,61.2 344.0,55.4 351.7,52.4 363.1,53.5 374.6,52.8 380.3,56.2 389.9,55.8 397.5,57.3 403.3,60.0 414.7,62.3 426.2,65.7 430.0,69.6 433.9,73.8 443.4,77.2 451.1,79.1 453.0,81.4 445.3,85.2 439.6,83.7 431.9,82.9 437.7,87.2 439.6,91.7 440.7,95.6 440.7,99.0ZM378.4,53.1 388.0,52.8 397.5,55.8 388.0,56.2 380.3,55.4 378.4,53.1ZM355.5,85.2 361.2,82.6 365.0,84.1 368.9,82.6 376.5,87.9 381.5,90.6 378.4,92.1 370.8,90.6 363.1,93.3 355.5,91.4 359.3,88.7 355.5,85.2ZM442.3,144.1 451.1,145.6 451.8,146.8 445.3,146.0 442.3,144.1ZM859.3,26.4 871.5,28.3 884.9,27.5 879.2,25.2 865.8,25.2 859.3,26.4ZM886.8,27.5 905.9,28.3 925.0,26.0 909.8,23.3 894.5,24.8 886.8,27.5ZM1035.9,26.8 1047.4,23.7 1062.7,24.5 1072.2,29.4 1058.8,33.3 1043.5,30.6 1035.9,26.8ZM1070.3,32.9 1081.8,31.7 1090.6,34.4 1081.8,36.7 1070.3,35.2 1070.3,32.9ZM1211.7,46.6 1219.4,43.6 1234.7,44.0 1242.3,45.9 1236.6,48.2 1219.4,48.9 1211.7,46.6ZM1246.1,46.6 1257.6,45.5 1265.2,47.8 1255.7,48.9 1246.1,46.6ZM1223.2,52.0 1230.8,52.0 1236.6,54.3 1227.0,54.3 1223.2,52.0ZM0.0,61.2 5.7,61.2 9.6,62.3 5.7,63.5 0.0,63.5M1376.1,61.2 1371.5,62.3 1376.1,63.5M31.7,91.0 38.2,91.0 42.8,92.9 36.3,92.5 31.7,91.0ZM48.5,104.4 54.7,104.0 53.5,105.9 48.5,104.4ZM46.6,130.7 52.4,128.1 51.6,130.0 46.6,130.7Z"/></g></defs>
<rect width="1500" height="3000" fill="#fff"/>
<text x="737" y="94.5" text-anchor="middle" font-size="50" xml:space="preserve" style="white-space:pre">Combined (GIM), 2024-01-23 04:00 UT</text>
<g transform="translate(58.5,119.5)"><g clip-path="url(#mc)">
<rect x="0" y="0" width="1357" height="669" fill="#00009b"/>
<path fill="#0000d1" d="M0,669 1357,669 1357,0 0,0Z"/>
<path fill="#0000ff" d="M0,669 1357,669 1357,0 0,0ZM764,244 741,241 698,233 688,232 674,231 635,234 616,233 596,229 581,225 573,220 570,215 572,210 577,205 583,202 609,191 618,186 623,182 620,177 609,172 602,171 588,169 573,168 535,169 483,174 420,182 392,184 363,183 336,182 315,179 301,176 291,173 281,167 272,161 263,151 254,139 243,119 240,110 239,105 240,100 244,94 250,86 262,76 272,70 282,65 291,62 301,60 311,60 330,61 344,63 354,65 368,70 391,81 401,85 420,90 435,91 483,93 564,99 597,99 626,98 688,91 750,88 808,81 851,80 879,77 894,78 898,79 903,81 907,86 908,91 908,96 905,100 901,105 874,125 855,143 844,153 831,161 803,175 799,177 793,182 791,186 790,191 790,196 795,210 796,215 795,220 794,225 788,234 783,239 779,241 774,243Z"/>
<path fill="#0028ff" d="M0,669 1357,669 1357,5 1223,5 1085,5 1051,8 1013,12 999,16 989,21 985,24 982,29 978,43 975,48 965,57 960,63 956,72 950,91 945,100 941,105 932,115 905,134 893,143 883,153 871,167 864,177 862,182 860,186 856,205 852,215 848,220 828,239 825,244 819,253 817,258 815,268 814,291 812,302 798,357 792,368 787,373 770,387 763,397 757,411 746,444 744,459 745,483 745,492 739,526 738,545 736,550 731,554 726,555 717,553 707,550 693,544 683,538 674,531 669,526 666,521 663,516 662,511 663,506 664,502 668,497 693,475 699,468 705,459 708,449 708,444 706,425 707,416 708,411 710,406 716,397 735,373 741,363 745,354 748,344 751,330 752,320 751,311 750,303 748,296 745,291 741,287 731,282 721,280 712,280 683,281 674,280 664,278 655,275 631,266 612,260 540,242 516,238 502,238 487,239 473,242 446,248 414,253 382,254 369,253 358,252 337,248 319,244 277,227 240,215 231,210 225,205 222,201 220,196 218,182 216,177 213,172 209,167 204,162 197,158 172,143 165,139 143,119 130,105 124,96 123,91 117,62 112,53 108,48 100,42 86,34 72,28 61,24 48,21 33,18 0,16Z"/>
<path fill="#0058ff" d="M0,669 1357,669 1357,13 1228,11 1104,13 1073,14 1042,17 1027,20 1015,24 1009,29 1009,33 1013,38 1021,43 1032,48 1040,53 1043,57 1045,62 1044,67 1042,70 1040,72 1032,76 999,84 989,88 984,91 978,96 954,119 918,148 904,162 894,177 890,186 884,205 878,215 870,225 848,244 840,253 837,258 834,268 830,301 823,330 818,358 815,368 812,374 808,381 792,397 784,406 779,416 776,425 772,444 770,468 771,483 773,497 777,506 784,515 802,530 806,535 808,540 809,545 807,569 809,583 813,592 817,598 822,602 831,607 841,609 884,618 913,623 951,627 971,631 986,635 995,640 999,645 1000,650 994,655 975,659 951,660 879,658 860,657 842,655 826,650 816,645 793,628 784,623 769,620 731,614 717,610 707,606 698,598 693,593 680,573 672,564 659,551 645,540 631,532 621,528 607,524 589,521 578,517 576,516 571,511 571,506 572,502 575,497 580,492 587,487 607,475 616,468 621,463 629,454 631,449 632,444 630,416 631,411 635,403 640,398 645,395 669,385 678,380 688,373 696,363 702,354 704,344 704,339 703,334 700,330 698,328 693,325 683,322 669,321 635,320 626,319 616,316 607,310 602,305 590,291 586,287 578,281 572,277 559,271 549,268 535,264 521,262 506,261 449,267 411,268 373,267 330,263 311,260 296,257 284,253 258,242 244,237 210,228 196,224 186,219 181,215 178,210 176,205 174,186 172,182 169,177 159,167 122,139 111,129 103,119 95,105 82,76 76,67 72,62 61,53 43,43 24,36 0,30Z"/>
<path fill="#008cff" d="M1116,664 1119,669 1357,669 1357,20 1257,18 1152,19 1128,20 1066,24 1051,26 1041,29 1040,33 1048,38 1056,42 1064,48 1069,53 1071,57 1075,67 1076,76 1075,81 1072,86 1066,89 1060,91 1027,95 1013,99 1000,105 989,113 947,148 933,162 922,177 907,205 900,215 890,225 863,248 855,258 851,267 848,277 846,296 838,330 832,368 829,377 827,383 821,392 807,406 800,416 797,420 794,430 791,459 790,473 792,483 794,487 797,492 802,497 808,501 817,504 831,507 870,511 874,512 882,516 884,521 881,526 865,540 860,545 855,551 852,559 851,564 852,569 854,573 860,580 872,588 889,595 913,602 932,606 994,616 1076,635 1089,640 1098,645 1104,650 1109,655ZM256,655 296,656 330,655 339,654 349,652 355,650 363,645 367,640 368,635 369,631 368,621 364,597 364,588 364,583 368,573 372,569 376,564 383,559 392,554 401,550 411,547 425,545 459,543 473,541 483,539 490,535 495,530 497,526 498,521 495,506 497,502 542,478 573,463 580,459 588,452 590,449 593,444 595,435 596,411 602,377 601,373 600,368 597,363 592,358 569,340 563,334 557,325 550,306 548,301 544,296 535,289 530,287 521,283 511,281 497,280 440,279 387,277 339,273 306,269 291,266 277,263 244,251 229,247 182,238 167,233 148,225 139,220 133,215 129,210 128,205 133,191 134,186 133,182 131,177 124,167 98,143 86,130 79,119 64,91 57,80 48,70 37,62 19,53 0,45 0,636 10,632 19,629 43,625 76,622 105,623 124,625 139,627 153,631 215,648 234,652ZM581,607 597,608 612,607 621,605 631,601 636,597 640,592 642,588 643,583 643,578 641,573 639,569 636,564 631,560 621,554 612,551 601,549 583,549 559,551 545,554 537,559 533,564 532,569 532,573 535,583 538,588 542,592 548,597 558,602 569,605Z"/>
<path fill="#00bcff" d="M1221,645 1238,646 1249,645 1261,643 1270,640 1280,635 1285,632 1304,616 1319,607 1328,602 1338,599 1357,595 1357,29 1261,25 1166,26 1147,27 1128,29 1108,33 1099,38 1096,43 1097,48 1098,53 1104,63 1120,81 1123,86 1125,91 1125,96 1123,101 1118,105 1113,108 1108,110 1099,112 1089,114 1080,114 1051,112 1037,113 1027,115 1013,121 1003,128 991,139 980,148 970,158 959,172 943,196 934,205 923,215 892,239 882,248 873,258 870,263 867,272 862,296 854,320 850,334 848,354 845,387 843,401 838,411 827,424 823,430 819,440 817,454 818,463 820,468 824,473 831,477 841,479 879,480 956,486 965,488 975,491 978,492 984,497 986,502 985,506 981,511 974,516 965,521 918,545 910,549 904,554 900,559 898,564 899,569 902,573 908,578 917,583 929,588 941,591 970,597 1032,605 1089,611 1109,614 1119,616 1132,621 1161,632 1175,637 1195,641ZM215,612 239,612 253,611 268,607 276,602 282,596 296,578 307,569 315,564 349,545 362,535 367,530 370,526 370,521 365,506 365,502 369,497 380,492 401,487 473,476 492,472 502,468 512,463 536,449 542,444 549,438 554,431 557,425 565,397 566,387 565,377 563,373 556,363 546,354 524,334 504,311 497,305 490,301 483,299 468,295 440,290 325,279 296,276 277,272 258,268 229,259 186,252 172,249 124,231 87,220 75,215 70,210 71,205 90,191 94,186 97,182 97,177 95,172 89,162 76,148 69,139 62,128 51,105 42,91 33,82 26,76 14,69 0,61 0,607 76,603 110,603 139,604ZM301,387 291,385 284,382 282,377 287,373 301,368 315,366 330,365 344,366 356,368 368,373 370,377 364,382 344,387 320,388Z"/>
<path fill="#06ecf1" d="M998,583 1070,587 1089,587 1109,585 1128,581 1161,568 1180,563 1204,560 1252,555 1276,551 1285,548 1292,545 1299,540 1301,535 1299,530 1293,526 1285,523 1279,521 1266,518 1242,515 1147,510 1099,512 1066,515 1056,517 1046,519 1027,528 1013,533 972,545 960,550 954,554 949,559 947,564 950,569 956,573 970,579 984,581ZM22,578 33,580 43,581 67,582 162,579 177,577 191,574 208,569 244,551 282,535 291,530 297,526 299,521 300,506 302,502 305,497 311,492 321,487 335,483 349,480 435,470 459,466 478,461 491,454 497,449 501,444 506,435 513,416 530,392 532,387 533,382 532,377 531,373 528,368 520,358 507,349 485,334 463,315 457,311 449,306 435,301 420,298 401,295 272,280 191,265 167,259 134,245 110,237 86,231 29,220 13,215 4,210 1,205 5,201 38,191 50,186 57,182 61,177 62,172 61,167 59,162 48,143 35,115 29,105 24,98 16,91 0,81 0,495 41,502 67,508 75,511 83,516 88,521 89,526 88,530 86,532 83,535 75,540 62,545 30,554 16,559 14,560 10,564 9,569 13,573ZM277,397 263,393 259,392 253,388 250,382 251,377 255,373 263,368 278,363 301,359 320,357 334,356 354,358 368,360 383,363 395,368 401,373 403,377 401,382 395,387 382,392 368,395 344,398 320,399 296,399ZM1319,487 1357,491 1357,40 1334,38 1300,37 1228,36 1190,36 1171,38 1161,40 1151,43 1147,48 1146,53 1148,57 1151,62 1167,81 1172,91 1173,96 1173,100 1169,105 1163,110 1152,115 1139,119 1123,124 1094,130 1061,133 1051,135 1042,137 1032,142 1017,153 1003,166 996,177 990,191 987,196 981,201 973,205 932,227 917,235 903,246 896,253 893,258 889,268 886,287 884,296 868,325 865,334 863,349 862,358 863,368 871,406 871,416 868,440 869,444 872,449 878,454 891,459 913,463 937,467 989,472 1037,480 1056,480 1109,476 1137,475 1152,476 1195,481 1242,485ZM1257,186 1211,177 1195,172 1191,167 1200,162 1214,160 1233,158 1247,158 1271,162 1306,172 1321,177 1329,182 1324,186 1304,189 1281,189Z"/>
<path fill="#2cffca" d="M155,502 177,504 196,502 215,498 252,487 330,470 354,467 401,464 420,462 442,459 459,454 468,449 474,444 477,440 480,430 481,416 483,411 485,406 499,387 501,382 502,377 501,373 498,368 492,362 486,358 468,348 459,341 446,325 440,318 436,315 427,311 416,307 401,303 387,301 301,292 247,287 210,281 191,277 177,272 129,252 100,243 72,236 0,224 0,473 24,477ZM258,406 244,402 239,400 234,396 231,392 229,387 228,382 230,377 233,373 239,368 248,363 263,358 277,355 301,351 320,349 339,349 358,350 387,355 411,360 420,364 425,368 428,373 429,377 428,382 425,387 420,392 411,397 397,401 368,405 320,408 282,409ZM1355,478 1357,478 1357,201 1295,200 1266,198 1209,188 1155,182 1142,179 1128,177 1094,166 1089,165 1080,165 1066,168 1051,174 1042,182 1030,196 1024,201 1015,205 970,222 946,232 932,239 924,244 918,248 914,253 911,258 908,268 908,291 908,296 903,306 889,324 885,330 882,339 881,349 884,363 892,387 898,425 900,430 904,435 909,440 917,444 927,448 941,451 958,454 980,456 1018,458 1061,460 1085,459 1123,457 1142,457 1161,460 1204,468 1228,471 1257,473 1324,476ZM0,177 10,175 17,172 19,170 22,167 24,163 24,158 23,148 21,139 16,124 10,114 5,109 0,105ZM1333,162 1357,167 1357,110 1324,113 1300,117 1285,122 1281,124 1275,129 1274,134 1275,139 1280,143 1288,148 1309,156Z"/>
<path fill="#53ffa4" d="M135,478 162,480 182,479 196,476 234,467 248,466 287,464 344,456 406,452 424,449 438,444 445,440 448,435 448,430 446,425 442,420 435,416 430,415 420,414 406,414 315,420 268,422 248,421 234,418 229,416 222,411 217,406 213,401 211,397 210,392 211,382 213,377 216,373 220,368 227,363 234,359 250,354 268,349 287,346 311,343 330,341 354,341 397,346 406,346 416,345 421,344 426,339 427,334 426,330 420,323 417,320 411,317 401,314 388,311 301,300 229,296 205,293 196,290 182,285 129,260 115,254 100,250 81,245 62,241 0,231 0,453 14,454 33,457 96,471ZM1345,463 1357,465 1357,209 1338,208 1276,205 1252,202 1209,194 1185,191 1118,187 1104,186 1089,187 1080,188 1070,191 1061,195 1042,205 1032,210 994,222 970,231 941,245 932,252 926,258 924,263 923,272 926,296 925,306 921,315 910,334 908,339 908,344 911,354 920,368 922,373 923,382 923,401 925,411 927,416 931,420 937,425 941,428 956,432 975,435 994,436 1037,436 1080,439 1137,441 1161,443 1209,452 1228,453 1266,454ZM1342,148 1357,150 1357,131 1347,131 1338,133 1334,134 1328,139 1331,143Z"/>
<path fill="#7dff7a" d="M128,459 153,462 162,462 172,461 182,459 186,457 193,454 200,449 203,444 203,440 202,435 189,416 187,411 187,406 187,401 192,387 200,373 208,363 215,358 229,351 244,346 263,342 320,330 334,325 330,320 316,315 296,311 277,309 225,307 210,305 201,303 191,300 182,296 148,277 129,268 115,262 100,256 81,251 62,247 38,242 0,237 0,431 19,435 57,439 72,442 86,446 109,454ZM1196,435 1214,436 1238,437 1328,434 1343,434 1357,436 1357,215 1271,210 1252,207 1209,199 1185,197 1132,194 1113,194 1099,195 1089,197 1080,199 1041,215 1008,224 991,229 952,248 945,253 940,258 937,263 936,268 936,277 943,311 946,318 951,324 956,327 975,334 980,337 983,339 986,344 987,349 986,354 984,358 977,368 975,373 974,377 975,382 978,387 984,391 999,396 1027,403 1058,416 1075,420 1094,423 1137,426Z"/>
<path fill="#a4ff53" d="M1203,425 1228,426 1257,424 1328,415 1357,409 1357,220 1271,214 1247,211 1209,204 1185,202 1142,200 1123,200 1109,201 1089,205 1056,217 1013,227 999,232 985,239 959,253 953,258 950,263 948,268 947,272 949,282 955,296 961,306 966,311 975,315 984,317 1010,320 1021,325 1024,330 1028,339 1032,347 1053,377 1062,387 1075,397 1085,403 1094,406 1137,411 1175,421 1190,424ZM7,416 19,418 29,418 48,417 62,414 92,401 107,397 119,395 148,393 158,391 162,390 172,384 177,379 195,358 205,350 220,341 236,334 243,330 238,325 205,318 191,313 177,305 153,289 139,280 123,272 105,265 84,258 62,253 33,247 0,242 0,414Z"/>
<path fill="#caff2c" d="M1193,416 1214,418 1238,416 1300,408 1343,399 1357,397 1357,224 1266,217 1247,215 1204,208 1185,206 1152,205 1132,205 1118,206 1099,210 1066,220 1024,229 1008,234 998,239 975,253 968,258 964,263 961,268 960,272 960,277 964,287 971,296 977,301 984,304 994,307 1023,311 1037,315 1042,319 1047,325 1053,334 1056,339 1070,354 1082,373 1085,377 1094,385 1104,390 1113,393 1145,401 1175,411ZM0,401 10,403 19,404 29,403 38,402 53,398 76,390 91,386 107,382 139,378 153,375 158,373 166,368 176,358 186,344 188,339 188,334 186,330 182,325 156,301 136,287 118,277 93,268 62,259 37,253 0,248Z"/>
<path fill="#f1fc06" d="M1188,406 1199,409 1214,410 1228,410 1247,408 1290,402 1357,387 1357,228 1266,221 1204,212 1185,210 1156,209 1128,211 1105,215 1070,225 1037,231 1023,235 1012,239 1005,244 981,263 977,268 976,272 976,277 978,282 982,287 987,291 999,297 1037,306 1048,311 1056,315 1061,320 1085,346 1089,354 1096,368 1099,372 1104,377 1109,380 1123,387 1159,397ZM0,387 0,391 14,392 24,391 38,388 76,377 124,369 139,366 146,363 153,359 160,354 162,350 166,344 167,339 167,334 166,330 161,320 149,306 134,294 115,283 91,274 62,265 31,258 0,253Z"/>
<path fill="#ffd000" d="M1203,401 1218,403 1233,403 1252,402 1271,399 1300,393 1342,382 1357,377 1357,232 1266,224 1190,215 1171,214 1152,214 1137,215 1123,218 1113,220 1089,228 1080,230 1046,235 1032,238 1021,244 1017,248 1015,253 1014,263 1011,272 1011,277 1013,282 1018,287 1025,291 1061,308 1073,315 1079,320 1089,330 1097,339 1101,349 1107,363 1109,368 1113,373 1120,377 1132,383ZM0,377 0,381 14,380 57,371 115,362 129,358 139,354 145,349 149,344 151,339 152,334 151,330 150,325 145,315 141,311 134,304 124,296 105,287 81,278 57,271 24,263 0,259Z"/>
<path fill="#ffa300" d="M1230,397 1257,395 1281,392 1300,387 1333,377 1357,368 1357,236 1257,227 1195,220 1175,219 1161,219 1142,220 1123,225 1110,229 1094,237 1085,241 1072,244 1060,248 1063,253 1063,258 1053,272 1050,277 1049,282 1050,287 1053,291 1060,296 1095,315 1103,320 1109,325 1112,330 1113,334 1114,349 1116,358 1118,363 1123,369 1127,373 1136,377 1152,382 1204,394 1218,396ZM0,368 33,362 91,357 105,355 115,353 125,349 132,344 134,342 136,339 138,334 138,330 137,325 132,315 123,306 115,300 100,293 81,286 49,277 29,272 0,267Z"/>
<path fill="#ff7300" d="M1205,387 1223,389 1238,390 1252,389 1271,387 1295,381 1324,373 1335,368 1357,357 1357,242 1340,239 1300,234 1204,225 1180,224 1156,225 1137,228 1123,234 1116,239 1112,244 1102,258 1096,263 1081,272 1077,277 1075,283 1076,287 1080,291 1089,296 1099,299 1109,300 1118,300 1128,298 1152,291 1171,288 1185,288 1199,288 1221,291 1238,296 1265,306 1276,311 1281,315 1278,320 1266,323 1256,325 1233,326 1180,326 1156,328 1142,332 1137,334 1132,339 1129,344 1128,349 1127,354 1128,358 1130,363 1134,368 1137,370 1142,373 1156,378ZM52,349 72,349 86,349 100,347 110,344 118,339 122,334 124,330 123,325 119,317 113,311 106,306 96,301 82,296 65,291 0,276 0,347 5,346 14,346Z"/>
<path fill="#ff4700" d="M1232,382 1247,382 1261,381 1279,377 1297,373 1310,368 1319,363 1325,358 1328,354 1328,349 1325,344 1319,340 1309,337 1300,336 1266,335 1190,336 1171,337 1156,340 1147,344 1142,349 1141,354 1141,358 1144,363 1150,368 1161,372 1190,378 1214,381ZM57,334 67,336 76,337 91,336 96,334 100,331 102,330 103,325 101,320 95,315 85,311 67,306 48,305 27,306 24,307 19,311 36,325 45,330ZM0,311 0,312 5,311 13,306 10,304 7,301 0,296ZM1321,306 1338,308 1347,308 1357,306 1357,253 1351,248 1335,244 1290,237 1264,234 1223,231 1185,229 1166,230 1156,232 1146,234 1137,239 1133,244 1131,248 1130,268 1134,272 1137,274 1152,276 1199,279 1218,282 1238,286 1285,298Z"/>
<path fill="#ff1a00" d="M1215,373 1233,373 1247,373 1261,372 1276,369 1291,363 1297,358 1298,354 1292,349 1281,346 1266,344 1242,343 1199,344 1180,346 1166,349 1159,354 1159,358 1161,361 1163,363 1171,366 1176,368 1185,369ZM1283,287 1300,289 1314,291 1328,291 1338,289 1344,287 1349,282 1351,277 1351,272 1350,268 1348,263 1345,258 1339,253 1333,251 1326,248 1304,244 1271,239 1218,235 1199,235 1185,236 1175,237 1165,239 1157,244 1154,248 1155,253 1158,258 1166,263 1175,266 1190,269 1233,276Z"/>
<path fill="#d10000" d="M1208,358 1223,361 1233,361 1247,360 1257,358 1253,354 1238,353 1217,354ZM1266,272 1290,276 1300,277 1309,277 1319,275 1324,273 1328,268 1327,263 1322,258 1311,253 1291,248 1261,244 1233,242 1209,242 1198,244 1187,248 1187,253 1194,258 1199,260 1211,263Z"/>
<use href="#coast"/>
</g><rect x="0" y="0" width="1357" height="669" fill="none" stroke="#000" stroke-width="3"/></g>
<g transform="translate(58.5,831.5)">
<rect x="0" y="0" width="65.2" height="68" fill="#00009b"/>
<rect x="64.6" y="0" width="65.2" height="68" fill="#0000d1"/>
<rect x="129.2" y="0" width="65.2" height="68" fill="#0000ff"/>
<rect x="193.9" y="0" width="65.2" height="68" fill="#0028ff"/>
<rect x="258.5" y="0" width="65.2" height="68" fill="#0058ff"/>
<rect x="323.1" y="0" width="65.2" height="68" fill="#008cff"/>
<rect x="387.7" y="0" width="65.2" height="68" fill="#00bcff"/>
<rect x="452.3" y="0" width="65.2" height="68" fill="#06ecf1"/>
<rect x="517" y="0" width="65.2" height="68" fill="#2cffca"/>
<rect x="581.6" y="0" width="65.2" height="68" fill="#53ffa4"/>
<rect x="646.2" y="0" width="65.2" height="68" fill="#7dff7a"/>
<rect x="710.8" y="0" width="65.2" height="68" fill="#a4ff53"/>
<rect x="775.4" y="0" width="65.2" height="68" fill="#caff2c"/>
<rect x="840" y="0" width="65.2" height="68" fill="#f1fc06"/>
<rect x="904.7" y="0" width="65.2" height="68" fill="#ffd000"/>
<rect x="969.3" y="0" width="65.2" height="68" fill="#ffa300"/>
<rect x="1033.9" y="0" width="65.2" height="68" fill="#ff7300"/>
<rect x="1098.5" y="0" width="65.2" height="68" fill="#ff4700"/>
<rect x="1163.1" y="0" width="65.2" height="68" fill="#ff1a00"/>
<rect x="1227.8" y="0" width="65.2" height="68" fill="#d10000"/>
<rect x="1292.4" y="0" width="64.6" height="68" fill="#9b0000"/>
<rect x="0" y="0" width="1357" height="68" fill="none" stroke="#000" stroke-width="3"/>
<line x1="0" y1="68" x2="0" y2="82.6" stroke="#000" stroke-width="3"/>
<text x="0" y="128" text-anchor="middle" font-size="41.67">0</text>
<line x1="193.9" y1="68" x2="193.9" y2="82.6" stroke="#000" stroke-width="3"/>
<text x="193.9" y="128" text-anchor="middle" font-size="41.67">15</text>
<line x1="387.7" y1="68" x2="387.7" y2="82.6" stroke="#000" stroke-width="3"/>
<text x="387.7" y="128" text-anchor="middle" font-size="41.67">30</text>
<line x1="581.6" y1="68" x2="581.6" y2="82.6" stroke="#000" stroke-width="3"/>
<text x="581.6" y="128" text-anchor="middle" font-size="41.67">45</text>
<line x1="775.4" y1="68" x2="775.4" y2="82.6" stroke="#000" stroke-width="3"/>
<text x="775.4" y="128" text-anchor="middle" font-size="41.67">60</text>
<line x1="969.3" y1="68" x2="969.3" y2="82.6" stroke="#000" stroke-width="3"/>
<text x="969.3" y="128" text-anchor="middle" font-size="41.67">75</text>
<line x1="1163.1" y1="68" x2="1163.1" y2="82.6" stroke="#000" stroke-width="3"/>
<text x="1163.1" y="128" text-anchor="middle" font-size="41.67">90</text>
<line x1="1357" y1="68" x2="1357" y2="82.6" stroke="#000" stroke-width="3"/>
<text x="1357" y="128" text-anchor="middle" font-size="41.67">105</text>
</g>
<text x="737" y="1079.5" text-anchor="middle" font-size="50" xml:space="preserve" style="white-space:pre">Ionosphere  (h=450.0 km), 2024-01-23 04:00 UT</text>
<g transform="translate(58.5,1104.5)"><g clip-path="url(#mc)">
<rect x="0" y="0" width="1357" height="669" fill="#00009b"/>
<path fill="#0000d1" d="M0,669 1357,669 1357,0 0,0ZM726,426 721,424 717,421 711,416 707,411 705,406 704,401 704,397 706,387 718,358 722,344 724,330 721,320 718,315 712,311 683,304 675,301 667,296 659,289 650,272 646,268 640,264 635,261 621,258 588,257 573,255 554,250 521,239 511,237 497,236 483,236 468,239 459,243 448,248 437,253 414,258 397,259 377,258 320,254 311,252 294,248 283,244 268,236 258,232 229,224 215,219 209,215 208,210 209,205 210,203 215,197 220,193 238,182 244,177 248,172 249,167 249,158 245,139 243,129 243,119 245,115 247,110 253,103 264,96 277,90 287,89 291,89 301,91 344,105 373,111 397,115 454,122 483,124 511,123 569,119 616,118 635,117 655,114 688,105 702,102 717,100 798,93 817,92 841,94 865,96 874,98 878,100 878,105 876,110 855,139 843,153 821,172 816,177 814,182 814,186 815,191 822,205 824,210 824,215 824,220 822,225 813,244 809,258 809,272 812,296 812,311 811,320 808,334 803,351 799,358 793,365 774,383 765,392 750,415 745,421 741,424 736,426 731,427Z"/>
<path fill="#0000ff" d="M0,669 1357,669 1357,2 1204,2 1070,2 1051,3 999,8 984,11 980,13 975,15 971,19 960,32 956,36 942,43 937,48 936,53 939,72 939,86 936,96 931,105 923,115 899,134 889,143 878,158 869,172 866,182 864,205 861,215 857,220 837,244 834,248 829,258 828,268 829,301 827,320 823,344 817,360 813,368 808,376 786,397 779,405 775,411 741,477 726,502 722,511 716,535 712,542 707,545 702,546 693,545 683,540 677,535 673,530 671,526 670,521 670,516 672,511 675,506 680,502 693,492 697,487 700,483 701,478 702,473 700,463 698,459 691,449 683,443 674,438 650,431 640,428 631,421 625,416 620,406 619,401 617,392 617,382 620,358 620,349 618,344 614,339 600,325 586,301 578,291 563,282 554,277 535,270 521,267 511,266 497,266 449,271 416,273 387,272 311,266 292,263 282,260 248,247 234,243 191,235 182,233 171,229 162,224 158,220 155,215 156,210 158,205 169,191 172,186 174,182 174,177 173,172 171,167 163,158 146,139 129,119 124,112 121,105 119,100 119,91 119,82 123,67 124,57 123,53 122,48 119,43 110,35 96,25 86,20 76,16 62,13 48,12 0,10ZM452,57 463,59 478,59 495,57 516,54 554,52 564,51 573,48 578,43 577,38 569,33 559,31 545,29 401,29 401,33 411,36 420,40 439,53Z"/>
<path fill="#0028ff" d="M0,669 1357,669 1357,10 1214,9 1094,10 1061,12 1032,15 1013,19 1003,24 999,29 998,33 1001,38 1008,45 1021,53 1025,57 1024,62 1016,67 989,74 980,78 975,82 970,87 958,105 950,115 914,148 906,158 898,172 894,182 889,205 884,215 876,225 855,245 849,253 846,258 845,263 843,272 843,301 841,320 836,344 831,363 827,373 821,382 812,392 797,406 788,418 783,430 774,454 766,478 762,502 762,516 764,527 775,545 779,554 780,564 777,573 775,578 771,583 765,588 760,590 750,593 741,595 726,597 717,598 702,596 693,593 688,590 678,581 663,564 645,546 635,537 626,531 621,529 612,528 583,530 569,529 557,526 551,521 547,516 545,511 544,506 544,502 546,497 549,492 554,487 561,483 583,473 592,467 597,463 600,459 602,454 602,449 599,440 585,411 582,401 575,377 571,368 563,354 548,334 543,325 536,306 533,301 528,296 521,292 516,290 502,287 411,283 306,274 287,271 270,268 229,255 215,253 186,250 172,247 149,239 106,220 101,215 101,210 107,205 124,193 131,186 134,182 135,177 134,172 133,167 127,158 107,134 98,119 92,105 83,72 78,62 75,57 67,50 57,44 47,38 35,33 24,30 0,26ZM253,393 250,392 245,387 244,382 247,377 255,373 272,368 291,366 317,368 335,373 339,377 333,382 322,387 306,392 291,395 272,396 263,396ZM951,650 949,650 946,645 955,640 960,639 970,639 980,640 988,645 986,650 975,653 965,653Z"/>
<path fill="#0058ff" d="M744,664 760,664 769,662 774,660 775,659 777,655 777,650 774,645 769,640 764,638 755,636 745,637 735,640 729,645 726,650 725,655 727,659 731,662ZM1032,669 1357,669 1357,18 1242,15 1152,16 1113,17 1066,20 1042,23 1032,25 1025,29 1026,33 1032,38 1051,48 1057,53 1059,57 1060,62 1060,67 1058,72 1054,76 1046,81 1037,84 1013,89 1003,92 994,97 984,104 946,143 934,158 928,167 923,177 917,196 913,205 906,215 897,225 875,244 866,253 863,258 861,263 859,272 859,296 857,311 849,349 841,377 837,387 831,396 808,420 803,427 799,435 790,459 786,473 785,487 786,497 788,502 792,506 796,511 803,516 817,526 822,530 824,535 825,540 824,564 825,573 826,578 829,583 832,588 837,592 846,598 856,602 874,608 894,613 908,615 927,617 960,616 980,617 999,620 1037,626 1075,631 1085,634 1089,635 1094,639 1100,645 1102,650 1103,655 1102,659 1099,662 1094,665 1075,667ZM233,659 253,661 282,662 311,662 334,661 350,659 363,656 369,655 376,650 380,645 380,640 379,635 373,621 355,588 352,578 352,573 353,569 356,564 362,559 369,554 377,550 397,542 411,538 427,535 443,530 446,526 436,521 386,506 375,502 371,497 380,492 492,467 506,461 518,454 522,449 525,444 527,440 528,425 530,420 532,416 542,401 546,392 548,382 547,373 545,368 539,358 526,345 506,330 487,313 474,306 463,302 444,297 420,293 354,285 282,279 263,276 225,267 182,262 162,256 115,238 96,232 64,225 47,220 38,215 38,210 45,205 76,195 84,191 93,186 98,182 101,177 102,172 101,167 97,158 81,132 76,119 63,86 57,77 54,72 43,62 33,55 19,48 0,41 0,638 5,635 14,631 24,628 38,625 72,622 91,622 105,623 124,626 139,629 157,635 196,652 210,656ZM248,407 239,404 234,402 226,397 223,392 222,387 222,382 225,377 230,373 234,370 244,366 258,362 272,360 291,359 311,359 334,361 355,363 384,368 397,373 401,377 399,382 387,387 344,393 306,402 287,406 268,408ZM579,592 592,595 602,595 607,594 612,592 616,588 618,583 617,578 614,573 612,571 608,569 602,567 597,566 588,565 578,567 572,569 565,573 563,578 564,583 569,588Z"/>
<path fill="#008cff" d="M1176,650 1218,654 1238,655 1257,653 1271,650 1280,645 1285,640 1292,631 1303,607 1307,602 1312,597 1319,592 1328,588 1343,584 1357,581 1357,26 1261,23 1166,23 1137,24 1118,26 1099,29 1080,33 1077,38 1084,53 1093,76 1095,86 1093,91 1088,96 1080,98 1070,99 1042,100 1032,101 1023,103 1013,107 1007,110 1001,115 994,121 983,134 968,153 960,167 949,196 942,205 932,215 899,239 889,248 883,258 881,263 879,272 881,291 880,301 870,328 865,344 860,367 857,392 855,402 851,411 846,416 830,430 822,439 816,449 810,463 808,473 808,478 809,483 811,487 817,492 827,496 836,498 865,499 884,502 903,506 911,511 911,516 909,521 904,526 884,539 877,545 870,553 867,559 867,564 868,569 871,573 879,581 889,586 903,592 913,595 923,597 937,599 1032,606 1085,607 1104,610 1118,614 1128,619 1136,626 1147,636 1156,643 1166,647ZM0,602 0,605 14,605 115,598 139,599 196,603 215,603 225,601 229,599 234,594 238,588 245,573 252,564 258,559 265,554 296,538 301,535 305,530 307,526 305,521 296,508 294,502 295,497 298,492 304,487 314,483 320,481 339,476 354,474 397,472 420,468 444,462 453,459 464,454 471,449 475,444 476,440 477,435 476,416 478,411 483,406 506,393 514,387 517,382 519,377 519,373 517,368 514,363 506,357 473,339 467,334 454,320 448,315 440,310 425,305 401,299 358,293 330,290 263,286 205,279 191,276 172,271 124,251 100,243 76,237 15,225 0,220ZM229,416 220,412 215,409 211,406 207,401 204,397 203,392 204,387 205,382 208,377 212,373 220,367 234,361 253,356 282,353 311,352 342,354 393,358 411,361 420,364 428,368 433,373 435,377 435,382 434,387 431,392 423,397 416,398 401,400 363,402 349,403 331,406 291,415 268,419 248,419 239,418ZM0,196 0,198 24,193 38,190 53,185 61,182 67,177 70,172 71,167 69,158 62,139 52,110 49,100 43,91 36,81 25,72 14,65 0,57Z"/>
<path fill="#00bcff" d="M949,583 975,587 1003,588 1070,586 1099,583 1109,581 1120,578 1128,575 1151,564 1166,559 1185,555 1233,547 1252,543 1261,540 1268,535 1268,530 1261,526 1245,521 1175,509 1152,506 1123,505 1066,507 1051,509 1042,511 1013,519 970,529 951,536 935,545 929,549 924,554 921,559 919,564 921,569 926,573 934,578ZM36,573 48,574 62,573 80,569 87,564 81,560 77,559 62,558 48,559 31,564 28,569ZM155,511 167,513 182,513 191,512 201,509 210,504 227,492 239,485 253,479 272,474 311,466 334,462 349,461 387,459 401,458 418,454 430,449 436,444 439,440 439,435 437,430 432,425 425,421 411,417 397,415 382,413 368,413 354,413 338,416 296,426 272,431 253,433 239,433 229,432 220,429 210,425 201,420 191,413 186,407 184,401 183,397 183,392 185,387 190,377 194,373 200,368 210,362 220,357 229,354 244,351 263,348 296,346 334,346 397,349 411,349 420,348 425,347 431,344 435,339 436,334 434,330 431,325 426,320 420,316 406,311 386,306 363,302 315,297 225,294 201,291 191,289 177,284 129,261 115,255 100,251 67,242 0,230 0,487 14,491 33,495 108,502ZM1019,483 1032,485 1042,485 1104,478 1137,477 1152,477 1204,481 1314,484 1357,486 1357,36 1323,33 1281,32 1195,31 1171,32 1152,33 1142,35 1132,38 1124,43 1122,48 1121,53 1123,57 1125,62 1135,76 1140,86 1141,91 1140,96 1137,100 1132,105 1124,110 1113,114 1104,116 1085,119 1051,119 1042,119 1032,122 1023,127 1018,130 1010,139 1004,148 999,158 995,172 994,182 995,191 994,196 991,201 985,205 977,210 922,238 914,244 909,248 905,253 903,258 901,263 901,268 902,277 906,291 907,296 907,301 903,311 890,330 886,339 883,349 882,358 881,392 879,406 874,420 870,428 859,444 857,449 857,454 858,459 864,463 874,468 898,473 922,476 980,477 994,478ZM0,182 19,178 24,176 32,172 37,167 40,162 41,153 36,124 34,115 30,105 24,96 19,91 10,83 0,77Z"/>
<path fill="#06ecf1" d="M83,478 143,481 167,481 181,478 191,474 201,468 207,463 211,459 212,454 210,449 205,444 191,435 148,411 144,406 143,401 146,397 181,368 191,361 201,355 210,351 225,347 258,341 291,338 315,337 339,337 373,338 387,338 397,336 401,334 404,330 401,325 392,320 376,315 347,311 300,306 277,305 220,306 205,304 196,303 182,298 136,272 119,265 105,260 85,253 62,248 0,237 0,466 48,474ZM1333,473 1357,475 1357,208 1252,194 1181,186 1151,182 1135,177 1129,172 1129,167 1137,162 1150,158 1161,155 1195,151 1223,150 1247,151 1300,161 1357,169 1357,101 1328,102 1300,102 1286,100 1279,96 1284,91 1299,86 1343,78 1352,75 1357,73 1357,60 1354,57 1343,53 1338,52 1319,50 1300,49 1223,50 1209,52 1204,53 1199,55 1195,57 1192,62 1192,67 1195,72 1206,91 1207,96 1205,100 1198,105 1187,110 1137,126 1113,132 1075,139 1059,143 1052,148 1047,153 1044,158 1041,167 1037,191 1035,196 1031,201 1024,205 1014,210 980,223 941,241 928,248 923,253 920,258 919,263 919,268 920,277 925,291 927,301 928,311 927,320 926,325 920,344 918,363 916,373 904,401 900,416 898,430 898,435 899,440 902,444 908,449 919,454 932,457 951,459 975,459 1066,459 1085,458 1123,453 1142,453 1161,456 1199,465 1223,468ZM0,162 7,158 11,153 13,148 15,143 15,134 14,124 10,115 5,108 0,103Z"/>
<path fill="#2cffca" d="M105,459 124,460 140,459 148,457 155,454 157,449 153,444 143,440 110,429 102,425 96,420 93,416 92,411 92,406 93,401 96,397 100,392 106,387 115,383 143,374 158,367 191,346 201,342 215,336 234,332 247,330 253,326 259,325 244,323 215,321 196,317 186,313 177,308 153,291 138,282 124,275 110,269 86,261 62,254 33,248 0,243 0,444 38,449 81,456ZM1340,454 1357,455 1357,216 1218,197 1118,188 1104,187 1089,187 1080,189 1070,192 1041,210 1029,215 999,224 984,230 947,248 940,253 936,258 934,263 933,268 934,277 938,287 946,305 949,311 954,315 962,320 975,323 984,324 1008,324 1018,325 1019,325 1024,330 1021,344 1018,349 1014,354 1003,360 975,372 966,377 956,387 943,401 937,411 936,416 936,420 939,425 945,430 951,432 960,434 975,435 994,432 1018,425 1023,425 1032,425 1061,429 1080,430 1128,431 1142,432 1161,434 1209,443 1228,444 1285,446 1304,448ZM1336,153 1357,155 1357,124 1337,124 1324,126 1314,128 1309,130 1302,134 1299,139 1303,143 1314,148Z"/>
<path fill="#53ffa4" d="M1192,425 1204,427 1223,428 1257,429 1281,427 1333,421 1357,418 1357,221 1204,201 1137,197 1118,196 1104,197 1094,198 1085,200 1075,204 1052,215 1036,220 1013,226 999,231 991,234 960,251 956,255 951,259 948,263 947,268 947,272 949,282 954,291 958,296 962,301 969,306 975,308 984,310 1018,310 1032,311 1048,315 1055,320 1059,325 1071,349 1073,354 1073,358 1069,377 1070,387 1073,397 1076,401 1080,404 1085,407 1094,409 1123,410 1137,411 1147,413 1175,422ZM7,420 14,422 24,422 33,421 43,418 48,416 53,412 57,407 70,392 75,387 81,382 90,377 96,375 134,364 143,361 153,356 163,349 168,344 172,339 174,334 175,330 173,325 170,320 161,311 145,296 131,287 115,278 91,269 62,261 33,255 0,249 0,419Z"/>
<path fill="#7dff7a" d="M1195,416 1204,417 1218,418 1242,417 1300,409 1338,401 1347,400 1357,399 1357,226 1199,206 1152,203 1128,203 1113,204 1094,207 1060,220 1023,229 1008,233 997,239 975,253 968,258 964,263 962,268 961,272 962,277 964,282 970,290 975,294 979,296 984,298 994,300 1027,302 1046,305 1064,311 1072,315 1078,320 1086,330 1090,339 1092,349 1092,368 1093,373 1095,377 1099,382 1104,386 1113,391 1123,394 1150,401 1180,412ZM0,401 0,403 10,403 24,401 29,399 38,394 57,379 68,373 81,368 124,357 139,351 148,344 152,339 155,334 155,330 155,325 153,320 147,311 137,301 124,291 110,284 90,277 57,268 29,261 0,255Z"/>
<path fill="#a4ff53" d="M1193,406 1204,408 1218,409 1233,409 1252,407 1285,403 1300,400 1329,392 1357,387 1357,231 1304,224 1199,211 1156,209 1124,210 1104,214 1070,225 1037,231 1023,234 1012,239 1005,244 994,256 987,263 983,268 983,272 984,277 989,282 994,284 1003,287 1023,290 1037,292 1061,299 1081,306 1092,311 1100,315 1106,320 1108,325 1108,334 1106,354 1106,363 1106,368 1108,373 1112,377 1119,382 1128,386ZM0,387 0,390 14,386 23,382 43,369 56,363 72,359 110,351 119,348 128,344 134,339 138,334 140,330 140,325 138,320 136,315 129,307 122,301 115,296 100,289 86,285 59,277 22,268 0,263Z"/>
<path fill="#caff2c" d="M1212,401 1228,402 1242,402 1261,400 1276,397 1343,380 1357,375 1357,236 1300,227 1214,217 1185,215 1156,215 1137,216 1123,218 1109,222 1085,232 1075,234 1046,236 1037,238 1032,239 1025,244 1025,248 1027,251 1032,253 1042,255 1066,256 1074,258 1075,263 1069,272 1068,277 1069,282 1075,287 1089,292 1104,295 1118,296 1132,296 1180,291 1199,291 1218,292 1253,296 1276,301 1290,306 1297,311 1300,315 1297,320 1288,325 1276,328 1266,329 1252,328 1233,327 1209,322 1195,321 1180,320 1166,321 1152,323 1137,328 1132,330 1128,334 1124,339 1121,344 1118,352 1117,358 1117,363 1118,368 1121,373 1127,377 1137,382 1147,385 1195,398ZM0,373 0,375 10,368 20,358 24,356 33,352 48,350 91,345 100,343 112,339 119,334 123,330 123,325 123,320 120,315 115,309 105,303 96,298 76,293 38,284 0,272Z"/>
<path fill="#f1fc06" d="M1202,392 1214,394 1228,395 1242,395 1261,393 1281,389 1337,373 1347,368 1357,362 1357,336 1347,331 1343,329 1338,329 1304,335 1276,337 1247,336 1195,331 1175,331 1161,333 1147,337 1137,342 1131,349 1129,354 1128,358 1129,363 1131,368 1135,373 1137,374 1144,377 1156,381ZM62,330 76,331 90,330 96,325 97,320 91,315 81,311 76,310 67,309 57,309 50,311 48,312 44,315 46,320 51,325ZM0,311 0,314 5,311 8,306 9,301 6,296 0,290ZM1338,311 1343,313 1347,314 1352,314 1357,313 1357,243 1347,240 1319,234 1281,229 1214,222 1180,220 1156,221 1147,222 1134,225 1122,229 1116,234 1113,239 1113,244 1120,258 1123,268 1126,272 1132,275 1142,277 1156,279 1238,286 1277,291 1301,296 1318,301 1330,306Z"/>
<path fill="#ffd000" d="M1192,382 1214,385 1228,386 1242,386 1257,384 1301,373 1315,368 1323,363 1326,358 1324,354 1319,351 1314,349 1304,347 1275,344 1195,339 1175,340 1161,342 1152,345 1146,349 1142,354 1141,358 1141,363 1144,368 1151,373 1166,377ZM1302,287 1324,289 1338,289 1347,287 1352,284 1354,282 1355,277 1355,272 1352,260 1350,253 1346,248 1338,245 1318,239 1291,234 1276,232 1223,227 1190,226 1166,227 1153,229 1147,232 1142,234 1137,239 1137,244 1139,248 1142,253 1147,258 1153,263 1166,268 1175,271 1190,273 1252,280Z"/>
<path fill="#ffa300" d="M1182,373 1199,374 1214,375 1238,373 1252,371 1266,367 1277,363 1280,358 1272,354 1261,352 1242,349 1214,347 1195,347 1180,347 1171,349 1161,354 1157,358 1158,363 1165,368ZM1300,277 1319,277 1328,275 1333,273 1337,268 1337,263 1336,258 1332,253 1324,248 1310,244 1290,239 1252,234 1214,232 1185,233 1175,234 1166,238 1164,239 1161,244 1162,248 1166,253 1175,259 1190,264 1209,268Z"/>
<path fill="#ff7300" d="M1272,263 1290,264 1300,263 1304,260 1306,258 1302,253 1292,248 1276,244 1242,239 1218,239 1204,241 1194,244 1191,248 1196,253 1210,258 1228,260Z"/>
<use href="#coast"/>
</g><rect x="0" y="0" width="1357" height="669" fill="none" stroke="#000" stroke-width="3"/></g>
<g transform="translate(58.5,1816.5)">
<rect x="0" y="0" width="65.2" height="68" fill="#00009b"/>
<rect x="64.6" y="0" width="65.2" height="68" fill="#0000d1"/>
<rect x="129.2" y="0" width="65.2" height="68" fill="#0000ff"/>
<rect x="193.9" y="0" width="65.2" height="68" fill="#0028ff"/>
<rect x="258.5" y="0" width="65.2" height="68" fill="#0058ff"/>
<rect x="323.1" y="0" width="65.2" height="68" fill="#008cff"/>
<rect x="387.7" y="0" width="65.2" height="68" fill="#00bcff"/>
<rect x="452.3" y="0" width="65.2" height="68" fill="#06ecf1"/>
<rect x="517" y="0" width="65.2" height="68" fill="#2cffca"/>
<rect x="581.6" y="0" width="65.2" height="68" fill="#53ffa4"/>
<rect x="646.2" y="0" width="65.2" height="68" fill="#7dff7a"/>
<rect x="710.8" y="0" width="65.2" height="68" fill="#a4ff53"/>
<rect x="775.4" y="0" width="65.2" height="68" fill="#caff2c"/>
<rect x="840" y="0" width="65.2" height="68" fill="#f1fc06"/>
<rect x="904.7" y="0" width="65.2" height="68" fill="#ffd000"/>
<rect x="969.3" y="0" width="65.2" height="68" fill="#ffa300"/>
<rect x="1033.9" y="0" width="65.2" height="68" fill="#ff7300"/>
<rect x="1098.5" y="0" width="65.2" height="68" fill="#ff4700"/>
<rect x="1163.1" y="0" width="65.2" height="68" fill="#ff1a00"/>
<rect x="1227.8" y="0" width="65.2" height="68" fill="#d10000"/>
<rect x="1292.4" y="0" width="64.6" height="68" fill="#9b0000"/>
<rect x="0" y="0" width="1357" height="68" fill="none" stroke="#000" stroke-width="3"/>
<line x1="0" y1="68" x2="0" y2="82.6" stroke="#000" stroke-width="3"/>
<text x="0" y="128" text-anchor="middle" font-size="41.67">0</text>
<line x1="193.9" y1="68" x2="193.9" y2="82.6" stroke="#000" stroke-width="3"/>
<text x="193.9" y="128" text-anchor="middle" font-size="41.67">15</text>
<line x1="387.7" y1="68" x2="387.7" y2="82.6" stroke="#000" stroke-width="3"/>
<text x="387.7" y="128" text-anchor="middle" font-size="41.67">30</text>
<line x1="581.6" y1="68" x2="581.6" y2="82.6" stroke="#000" stroke-width="3"/>
<text x="581.6" y="128" text-anchor="middle" font-size="41.67">45</text>
<line x1="775.4" y1="68" x2="775.4" y2="82.6" stroke="#000" stroke-width="3"/>
<text x="775.4" y="128" text-anchor="middle" font-size="41.67">60</text>
<line x1="969.3" y1="68" x2="969.3" y2="82.6" stroke="#000" stroke-width="3"/>
<text x="969.3" y="128" text-anchor="middle" font-size="41.67">75</text>
<line x1="1163.1" y1="68" x2="1163.1" y2="82.6" stroke="#000" stroke-width="3"/>
<text x="1163.1" y="128" text-anchor="middle" font-size="41.67">90</text>
<line x1="1357" y1="68" x2="1357" y2="82.6" stroke="#000" stroke-width="3"/>
<text x="1357" y="128" text-anchor="middle" font-size="41.67">105</text>
</g>
<text x="737" y="2064.5" text-anchor="middle" font-size="50" xml:space="preserve" style="white-space:pre">Plasmasphere (h=1500.0 km), 2024-01-23 04:00 UT</text>
<g transform="translate(58.5,2089.5)"><g clip-path="url(#mc)">
<rect x="0" y="0" width="1357" height="669" fill="#0000ad"/>
<path fill="#0000ff" d="M0,669 1357,669 1357,0 0,0ZM387,115 359,110 344,105 336,100 331,96 325,86 322,76 321,67 322,53 325,42 329,33 334,26 339,22 349,17 358,14 373,11 401,8 521,7 549,8 574,10 588,12 597,14 607,19 613,24 615,29 616,33 615,38 612,48 607,58 604,62 597,68 592,72 583,77 516,105 502,109 487,112 472,115 444,117 416,118ZM812,588 798,582 784,574 766,559 755,546 751,540 749,535 749,530 749,526 750,521 753,516 759,511 768,506 813,487 865,468 879,464 889,462 898,461 908,460 917,461 927,464 937,468 945,473 982,502 989,509 994,516 996,521 996,526 996,530 992,540 985,549 980,554 975,558 965,562 951,567 917,574 884,585 865,589 851,591 836,591 822,590ZM1257,179 1233,166 1223,162 1214,159 1199,156 1171,155 1109,156 1075,156 1051,154 1032,150 1018,144 1009,139 1003,134 993,124 985,115 982,110 980,105 980,100 980,96 982,91 986,86 992,81 999,78 1013,73 1037,70 1070,68 1132,66 1161,69 1185,74 1199,79 1214,85 1254,105 1285,119 1295,125 1300,129 1304,134 1307,139 1308,143 1308,148 1306,153 1304,158 1297,167 1291,172 1285,176 1276,180 1266,181Z"/>
<path fill="#0054ff" d="M1061,650 1075,652 1094,653 1152,651 1218,653 1252,652 1271,651 1285,649 1302,645 1338,636 1347,634 1357,633 1357,178 1347,179 1333,183 1304,196 1290,202 1276,205 1266,205 1257,204 1247,201 1238,196 1214,182 1204,179 1195,177 1185,177 1171,177 1118,183 1080,186 1056,187 1032,186 1003,182 956,174 894,167 874,163 836,154 817,150 803,149 779,147 721,145 698,146 678,150 621,169 605,172 588,174 578,174 564,173 530,168 511,166 492,166 430,170 411,170 392,169 373,167 315,157 301,154 291,151 277,143 248,123 219,105 196,88 186,82 172,77 158,75 148,75 134,76 108,81 81,89 33,107 19,111 0,114 0,626 14,628 29,628 76,623 100,622 191,621 253,618 320,613 354,609 416,601 449,599 478,599 497,601 506,603 516,607 540,618 549,622 559,624 569,625 583,624 631,614 664,609 674,608 683,604 688,601 693,597 696,592 698,588 701,578 701,569 700,559 697,549 693,541 688,535 683,532 678,531 669,530 645,530 635,530 626,527 621,526 614,521 609,516 607,511 606,506 606,502 607,497 609,492 613,487 619,483 626,478 640,472 655,468 669,466 688,465 731,469 745,469 755,467 774,462 822,443 851,434 870,429 884,427 898,426 913,425 932,426 956,431 983,440 1023,455 1046,461 1070,465 1123,469 1161,474 1185,478 1197,483 1204,487 1207,492 1207,497 1204,502 1200,506 1194,511 1180,521 1166,530 1156,535 1118,550 1098,559 1064,578 1056,584 1046,593 1039,602 1034,612 1032,621 1032,626 1033,631 1035,635 1042,642 1047,645Z"/>
<path fill="#00a8ff" d="M197,578 229,581 253,581 282,578 304,573 325,566 344,557 358,548 385,526 392,521 401,517 411,515 420,513 459,511 473,510 535,498 545,495 554,491 588,468 602,460 621,452 635,446 659,440 678,438 693,437 736,438 745,437 755,435 764,432 779,426 812,408 822,403 836,398 851,395 870,394 898,394 932,396 960,399 994,406 1123,436 1152,440 1185,444 1209,444 1228,443 1285,434 1357,427 1357,198 1347,199 1338,201 1309,212 1295,216 1281,219 1266,220 1252,218 1239,215 1227,210 1204,200 1190,196 1171,195 1142,198 1070,211 984,222 960,227 946,231 937,235 913,252 901,258 889,262 874,263 865,262 860,261 851,257 841,250 814,225 808,220 798,214 784,208 769,204 755,200 736,197 717,196 698,197 683,199 650,207 635,209 621,208 578,203 554,203 526,204 473,210 459,211 444,210 420,208 354,200 325,196 301,192 282,187 265,182 210,159 196,155 177,152 153,151 119,152 43,157 19,159 0,162 0,434 10,437 38,444 53,449 63,454 69,459 74,463 77,468 79,473 83,502 93,535 99,549 103,554 110,561 119,566 134,570 148,573Z"/>
<path fill="#16ffe1" d="M284,511 306,514 315,513 325,512 339,509 373,495 392,489 411,487 459,485 473,483 487,480 506,473 540,456 597,431 621,423 635,419 655,416 721,410 731,408 741,405 749,401 756,397 764,390 782,373 793,365 808,358 817,356 827,355 841,354 860,355 913,363 975,372 1003,378 1061,393 1113,404 1152,415 1171,418 1190,419 1209,417 1220,416 1261,407 1314,401 1333,397 1343,393 1357,386 1357,212 1347,214 1319,223 1304,227 1287,229 1271,230 1252,229 1238,227 1223,224 1195,215 1175,212 1152,212 1123,216 1023,238 989,246 975,252 966,258 943,282 936,287 927,291 903,299 879,306 860,309 846,310 836,309 827,307 817,305 807,301 793,293 768,272 750,261 731,252 721,249 712,247 702,246 693,247 686,248 678,252 664,262 640,283 635,286 631,288 626,288 621,287 616,284 612,280 607,271 599,253 592,244 587,239 583,236 578,234 569,232 559,231 545,233 506,241 487,245 468,246 449,246 387,238 358,233 287,214 225,195 196,188 177,184 162,183 148,183 72,185 33,187 0,192 0,397 14,405 29,412 76,428 96,436 111,444 134,461 143,467 158,474 234,501 253,506Z"/>
<path fill="#5aff9d" d="M272,473 296,475 320,473 339,470 368,461 382,459 397,460 425,466 444,468 459,468 473,465 487,460 496,454 545,412 549,409 554,407 564,404 597,398 635,388 688,382 702,379 712,374 721,368 726,364 734,354 738,344 739,339 739,334 738,330 736,323 731,315 721,306 713,301 707,299 698,298 693,299 688,301 678,307 650,334 643,339 635,343 631,344 621,345 592,344 581,344 573,345 564,349 559,353 554,358 545,376 540,383 535,386 530,387 526,387 516,383 508,377 502,370 492,357 485,349 478,342 463,330 459,325 456,320 454,315 451,301 447,296 440,291 426,287 411,285 401,286 392,289 387,292 382,296 378,301 375,306 371,315 370,325 370,334 372,354 372,363 371,368 368,376 363,383 358,386 354,388 349,386 344,382 339,376 326,349 310,325 309,320 308,315 309,311 317,287 318,277 317,272 315,268 312,263 308,258 302,253 293,248 282,244 258,237 228,225 220,222 205,218 182,215 143,212 100,210 53,211 0,214 0,376 24,389 38,396 57,403 94,416 110,422 125,430 153,446 167,452 186,458ZM1244,387 1257,388 1271,388 1295,386 1304,384 1314,381 1330,373 1343,368 1357,366 1357,224 1324,235 1309,237 1290,239 1261,239 1233,238 1214,235 1180,228 1166,226 1156,225 1142,226 1128,228 1104,232 1076,239 1051,246 1031,253 1018,259 1011,263 1005,268 1000,272 993,282 976,320 975,325 976,330 978,334 984,339 991,344 1012,354 1032,362 1051,369 1066,373 1085,377 1099,378 1113,377 1152,374 1171,374 1190,377 1223,384Z"/>
<path fill="#9dff5a" d="M446,449 454,450 463,448 471,444 478,440 483,434 488,425 490,416 490,411 487,401 479,387 472,377 463,369 459,365 449,361 440,360 430,360 420,363 416,366 410,373 404,382 400,392 397,401 396,411 397,416 401,424 407,430 413,435 421,440 430,444 440,448ZM213,444 258,448 282,449 291,448 303,444 311,440 315,436 319,430 322,420 322,411 321,401 317,387 314,377 309,368 301,358 291,350 282,345 272,341 238,330 227,325 219,320 213,315 209,311 196,291 189,282 182,275 167,263 158,257 148,253 134,248 119,245 105,242 86,239 48,236 0,236 0,361 56,387 120,411 167,434 186,440ZM1234,373 1247,375 1257,376 1266,376 1281,375 1295,371 1324,358 1338,353 1347,350 1357,349 1357,237 1343,242 1328,246 1314,248 1295,249 1218,249 1199,247 1171,241 1156,239 1142,239 1123,241 1104,244 1080,250 1066,255 1051,261 1041,268 1032,275 1026,282 1021,291 1019,301 1018,311 1020,320 1022,325 1027,332 1035,339 1046,347 1061,353 1080,359 1099,361 1118,360 1156,356 1171,356 1180,357 1199,361Z"/>
<path fill="#e4ff13" d="M212,430 234,432 258,432 273,430 282,427 287,424 291,420 295,416 297,411 299,401 299,397 297,387 295,382 291,375 287,370 282,366 277,363 268,358 253,354 205,343 194,339 182,334 172,329 148,309 139,303 91,277 76,270 57,265 38,262 24,261 14,262 0,265 0,346 24,355 71,377 129,400 174,420 191,426ZM1242,358 1252,361 1261,362 1271,361 1281,359 1290,356 1306,349 1343,331 1352,327 1357,327 1357,252 1347,257 1333,261 1319,261 1276,260 1257,260 1235,263 1214,268 1204,269 1199,269 1190,267 1166,258 1152,255 1137,254 1118,255 1104,257 1089,261 1080,264 1070,269 1061,275 1053,282 1049,287 1045,296 1044,301 1044,311 1048,320 1052,325 1056,330 1063,334 1070,338 1080,342 1094,344 1104,345 1113,344 1132,340 1156,331 1166,328 1175,327 1185,327 1195,330 1204,334 1223,349 1232,354Z"/>
<path fill="#ffbd00" d="M219,416 234,417 244,416 253,415 264,411 270,406 273,401 274,397 273,392 272,387 268,382 263,378 253,373 238,368 182,354 167,350 158,346 145,339 124,326 114,320 67,300 53,295 38,292 29,292 24,293 19,294 14,297 10,301 7,306 5,311 4,315 6,320 10,325 17,330 82,363 170,401 196,411ZM1249,339 1257,342 1261,343 1271,343 1285,339 1296,334 1309,326 1336,306 1341,301 1343,296 1342,291 1336,287 1322,282 1304,278 1285,276 1271,276 1261,277 1247,281 1238,285 1228,291 1222,296 1219,301 1217,306 1217,311 1219,315 1223,320 1227,325 1238,333ZM1082,320 1089,323 1094,324 1104,324 1116,320 1124,315 1130,311 1133,306 1135,301 1136,291 1135,287 1132,283 1128,279 1123,277 1118,276 1109,276 1094,278 1085,282 1080,285 1074,291 1071,296 1070,301 1070,306 1072,311 1076,315Z"/>
<path fill="#ff6f00" d="M1255,315 1261,319 1266,320 1271,320 1276,318 1282,315 1288,311 1292,306 1293,301 1290,299 1284,296 1276,296 1266,297 1258,301 1254,306 1253,311Z"/>
<use href="#coast"/>
</g><rect x="0" y="0" width="1357" height="669" fill="none" stroke="#000" stroke-width="3"/></g>
<g transform="translate(58.5,2801.5)">
<rect x="0" y="0" width="113.7" height="68" fill="#0000ad"/>
<rect x="113.1" y="0" width="113.7" height="68" fill="#0000ff"/>
<rect x="226.2" y="0" width="113.7" height="68" fill="#0054ff"/>
<rect x="339.2" y="0" width="113.7" height="68" fill="#00a8ff"/>
<rect x="452.3" y="0" width="113.7" height="68" fill="#16ffe1"/>
<rect x="565.4" y="0" width="113.7" height="68" fill="#5aff9d"/>
<rect x="678.5" y="0" width="113.7" height="68" fill="#9dff5a"/>
<rect x="791.6" y="0" width="113.7" height="68" fill="#e4ff13"/>
<rect x="904.7" y="0" width="113.7" height="68" fill="#ffbd00"/>
<rect x="1017.8" y="0" width="113.7" height="68" fill="#ff6f00"/>
<rect x="1130.8" y="0" width="113.7" height="68" fill="#ff1e00"/>
<rect x="1243.9" y="0" width="113.1" height="68" fill="#ad0000"/>
<rect x="0" y="0" width="1357" height="68" fill="none" stroke="#000" stroke-width="3"/>
<line x1="0" y1="68" x2="0" y2="82.6" stroke="#000" stroke-width="3"/>
<text x="0" y="128" text-anchor="middle" font-size="41.67">0</text>
<line x1="226.2" y1="68" x2="226.2" y2="82.6" stroke="#000" stroke-width="3"/>
<text x="226.2" y="128" text-anchor="middle" font-size="41.67">5</text>
<line x1="452.3" y1="68" x2="452.3" y2="82.6" stroke="#000" stroke-width="3"/>
<text x="452.3" y="128" text-anchor="middle" font-size="41.67">10</text>
<line x1="678.5" y1="68" x2="678.5" y2="82.6" stroke="#000" stroke-width="3"/>
<text x="678.5" y="128" text-anchor="middle" font-size="41.67">15</text>
<line x1="904.7" y1="68" x2="904.7" y2="82.6" stroke="#000" stroke-width="3"/>
<text x="904.7" y="128" text-anchor="middle" font-size="41.67">20</text>
<line x1="1130.8" y1="68" x2="1130.8" y2="82.6" stroke="#000" stroke-width="3"/>
<text x="1130.8" y="128" text-anchor="middle" font-size="41.67">25</text>
<line x1="1357" y1="68" x2="1357" y2="82.6" stroke="#000" stroke-width="3"/>
<text x="1357" y="128" text-anchor="middle" font-size="41.67">30</text>
</g>
</svg></body></html>
